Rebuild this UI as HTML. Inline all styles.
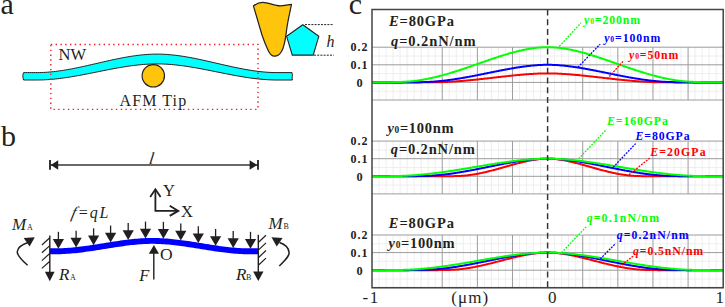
<!DOCTYPE html>
<html><head><meta charset="utf-8"><title>figure</title>
<style>
html,body{margin:0;padding:0;background:#fff;width:725px;height:307px;overflow:hidden;}
svg{display:block;}
text{font-family:"Liberation Serif",serif;}
</style></head>
<body>
<svg width="725" height="307" viewBox="0 0 725 307">
<rect width="725" height="307" fill="#fff"/>
<line x1="379.02" y1="47.2" x2="379.02" y2="100.0" stroke="#ececec" stroke-width="0.9"/>
<line x1="386.05" y1="47.2" x2="386.05" y2="100.0" stroke="#ececec" stroke-width="0.9"/>
<line x1="393.07" y1="47.2" x2="393.07" y2="100.0" stroke="#ececec" stroke-width="0.9"/>
<line x1="400.10" y1="47.2" x2="400.10" y2="100.0" stroke="#ececec" stroke-width="0.9"/>
<line x1="407.12" y1="47.2" x2="407.12" y2="100.0" stroke="#ececec" stroke-width="0.9"/>
<line x1="414.14" y1="47.2" x2="414.14" y2="100.0" stroke="#ececec" stroke-width="0.9"/>
<line x1="421.17" y1="47.2" x2="421.17" y2="100.0" stroke="#ececec" stroke-width="0.9"/>
<line x1="428.19" y1="47.2" x2="428.19" y2="100.0" stroke="#ececec" stroke-width="0.9"/>
<line x1="435.22" y1="47.2" x2="435.22" y2="100.0" stroke="#ececec" stroke-width="0.9"/>
<line x1="449.26" y1="47.2" x2="449.26" y2="100.0" stroke="#ececec" stroke-width="0.9"/>
<line x1="456.29" y1="47.2" x2="456.29" y2="100.0" stroke="#ececec" stroke-width="0.9"/>
<line x1="463.31" y1="47.2" x2="463.31" y2="100.0" stroke="#ececec" stroke-width="0.9"/>
<line x1="470.34" y1="47.2" x2="470.34" y2="100.0" stroke="#ececec" stroke-width="0.9"/>
<line x1="484.38" y1="47.2" x2="484.38" y2="100.0" stroke="#ececec" stroke-width="0.9"/>
<line x1="491.41" y1="47.2" x2="491.41" y2="100.0" stroke="#ececec" stroke-width="0.9"/>
<line x1="498.43" y1="47.2" x2="498.43" y2="100.0" stroke="#ececec" stroke-width="0.9"/>
<line x1="505.46" y1="47.2" x2="505.46" y2="100.0" stroke="#ececec" stroke-width="0.9"/>
<line x1="519.50" y1="47.2" x2="519.50" y2="100.0" stroke="#ececec" stroke-width="0.9"/>
<line x1="526.53" y1="47.2" x2="526.53" y2="100.0" stroke="#ececec" stroke-width="0.9"/>
<line x1="533.55" y1="47.2" x2="533.55" y2="100.0" stroke="#ececec" stroke-width="0.9"/>
<line x1="540.58" y1="47.2" x2="540.58" y2="100.0" stroke="#ececec" stroke-width="0.9"/>
<line x1="554.62" y1="47.2" x2="554.62" y2="100.0" stroke="#ececec" stroke-width="0.9"/>
<line x1="561.65" y1="47.2" x2="561.65" y2="100.0" stroke="#ececec" stroke-width="0.9"/>
<line x1="568.67" y1="47.2" x2="568.67" y2="100.0" stroke="#ececec" stroke-width="0.9"/>
<line x1="575.70" y1="47.2" x2="575.70" y2="100.0" stroke="#ececec" stroke-width="0.9"/>
<line x1="589.74" y1="47.2" x2="589.74" y2="100.0" stroke="#ececec" stroke-width="0.9"/>
<line x1="596.77" y1="47.2" x2="596.77" y2="100.0" stroke="#ececec" stroke-width="0.9"/>
<line x1="603.79" y1="47.2" x2="603.79" y2="100.0" stroke="#ececec" stroke-width="0.9"/>
<line x1="610.82" y1="47.2" x2="610.82" y2="100.0" stroke="#ececec" stroke-width="0.9"/>
<line x1="624.86" y1="47.2" x2="624.86" y2="100.0" stroke="#ececec" stroke-width="0.9"/>
<line x1="631.89" y1="47.2" x2="631.89" y2="100.0" stroke="#ececec" stroke-width="0.9"/>
<line x1="638.91" y1="47.2" x2="638.91" y2="100.0" stroke="#ececec" stroke-width="0.9"/>
<line x1="645.94" y1="47.2" x2="645.94" y2="100.0" stroke="#ececec" stroke-width="0.9"/>
<line x1="659.98" y1="47.2" x2="659.98" y2="100.0" stroke="#ececec" stroke-width="0.9"/>
<line x1="667.01" y1="47.2" x2="667.01" y2="100.0" stroke="#ececec" stroke-width="0.9"/>
<line x1="674.03" y1="47.2" x2="674.03" y2="100.0" stroke="#ececec" stroke-width="0.9"/>
<line x1="681.06" y1="47.2" x2="681.06" y2="100.0" stroke="#ececec" stroke-width="0.9"/>
<line x1="695.10" y1="47.2" x2="695.10" y2="100.0" stroke="#ececec" stroke-width="0.9"/>
<line x1="702.13" y1="47.2" x2="702.13" y2="100.0" stroke="#ececec" stroke-width="0.9"/>
<line x1="709.15" y1="47.2" x2="709.15" y2="100.0" stroke="#ececec" stroke-width="0.9"/>
<line x1="716.18" y1="47.2" x2="716.18" y2="100.0" stroke="#ececec" stroke-width="0.9"/>
<line x1="372.0" y1="56.00000000000001" x2="723.2" y2="56.00000000000001" stroke="#ececec" stroke-width="0.9"/>
<line x1="372.0" y1="73.60000000000001" x2="723.2" y2="73.60000000000001" stroke="#ececec" stroke-width="0.9"/>
<line x1="372.0" y1="91.2" x2="723.2" y2="91.2" stroke="#ececec" stroke-width="0.9"/>
<line x1="442.24" y1="47.2" x2="442.24" y2="100.0" stroke="#9c9c9c" stroke-width="1"/>
<line x1="477.36" y1="47.2" x2="477.36" y2="100.0" stroke="#9c9c9c" stroke-width="1"/>
<line x1="512.48" y1="47.2" x2="512.48" y2="100.0" stroke="#9c9c9c" stroke-width="1"/>
<line x1="582.72" y1="47.2" x2="582.72" y2="100.0" stroke="#9c9c9c" stroke-width="1"/>
<line x1="617.84" y1="47.2" x2="617.84" y2="100.0" stroke="#9c9c9c" stroke-width="1"/>
<line x1="652.96" y1="47.2" x2="652.96" y2="100.0" stroke="#9c9c9c" stroke-width="1"/>
<line x1="688.08" y1="47.2" x2="688.08" y2="100.0" stroke="#9c9c9c" stroke-width="1"/>
<line x1="372.0" y1="47.2" x2="723.2" y2="47.2" stroke="#9c9c9c" stroke-width="1"/>
<line x1="372.0" y1="64.80000000000001" x2="723.2" y2="64.80000000000001" stroke="#9c9c9c" stroke-width="1"/>
<line x1="372.0" y1="82.4" x2="723.2" y2="82.4" stroke="#9c9c9c" stroke-width="1"/>
<line x1="372.0" y1="100.0" x2="723.2" y2="100.0" stroke="#9c9c9c" stroke-width="1"/>
<line x1="379.02" y1="141.10000000000002" x2="379.02" y2="193.9" stroke="#ececec" stroke-width="0.9"/>
<line x1="386.05" y1="141.10000000000002" x2="386.05" y2="193.9" stroke="#ececec" stroke-width="0.9"/>
<line x1="393.07" y1="141.10000000000002" x2="393.07" y2="193.9" stroke="#ececec" stroke-width="0.9"/>
<line x1="400.10" y1="141.10000000000002" x2="400.10" y2="193.9" stroke="#ececec" stroke-width="0.9"/>
<line x1="407.12" y1="141.10000000000002" x2="407.12" y2="193.9" stroke="#ececec" stroke-width="0.9"/>
<line x1="414.14" y1="141.10000000000002" x2="414.14" y2="193.9" stroke="#ececec" stroke-width="0.9"/>
<line x1="421.17" y1="141.10000000000002" x2="421.17" y2="193.9" stroke="#ececec" stroke-width="0.9"/>
<line x1="428.19" y1="141.10000000000002" x2="428.19" y2="193.9" stroke="#ececec" stroke-width="0.9"/>
<line x1="435.22" y1="141.10000000000002" x2="435.22" y2="193.9" stroke="#ececec" stroke-width="0.9"/>
<line x1="449.26" y1="141.10000000000002" x2="449.26" y2="193.9" stroke="#ececec" stroke-width="0.9"/>
<line x1="456.29" y1="141.10000000000002" x2="456.29" y2="193.9" stroke="#ececec" stroke-width="0.9"/>
<line x1="463.31" y1="141.10000000000002" x2="463.31" y2="193.9" stroke="#ececec" stroke-width="0.9"/>
<line x1="470.34" y1="141.10000000000002" x2="470.34" y2="193.9" stroke="#ececec" stroke-width="0.9"/>
<line x1="484.38" y1="141.10000000000002" x2="484.38" y2="193.9" stroke="#ececec" stroke-width="0.9"/>
<line x1="491.41" y1="141.10000000000002" x2="491.41" y2="193.9" stroke="#ececec" stroke-width="0.9"/>
<line x1="498.43" y1="141.10000000000002" x2="498.43" y2="193.9" stroke="#ececec" stroke-width="0.9"/>
<line x1="505.46" y1="141.10000000000002" x2="505.46" y2="193.9" stroke="#ececec" stroke-width="0.9"/>
<line x1="519.50" y1="141.10000000000002" x2="519.50" y2="193.9" stroke="#ececec" stroke-width="0.9"/>
<line x1="526.53" y1="141.10000000000002" x2="526.53" y2="193.9" stroke="#ececec" stroke-width="0.9"/>
<line x1="533.55" y1="141.10000000000002" x2="533.55" y2="193.9" stroke="#ececec" stroke-width="0.9"/>
<line x1="540.58" y1="141.10000000000002" x2="540.58" y2="193.9" stroke="#ececec" stroke-width="0.9"/>
<line x1="554.62" y1="141.10000000000002" x2="554.62" y2="193.9" stroke="#ececec" stroke-width="0.9"/>
<line x1="561.65" y1="141.10000000000002" x2="561.65" y2="193.9" stroke="#ececec" stroke-width="0.9"/>
<line x1="568.67" y1="141.10000000000002" x2="568.67" y2="193.9" stroke="#ececec" stroke-width="0.9"/>
<line x1="575.70" y1="141.10000000000002" x2="575.70" y2="193.9" stroke="#ececec" stroke-width="0.9"/>
<line x1="589.74" y1="141.10000000000002" x2="589.74" y2="193.9" stroke="#ececec" stroke-width="0.9"/>
<line x1="596.77" y1="141.10000000000002" x2="596.77" y2="193.9" stroke="#ececec" stroke-width="0.9"/>
<line x1="603.79" y1="141.10000000000002" x2="603.79" y2="193.9" stroke="#ececec" stroke-width="0.9"/>
<line x1="610.82" y1="141.10000000000002" x2="610.82" y2="193.9" stroke="#ececec" stroke-width="0.9"/>
<line x1="624.86" y1="141.10000000000002" x2="624.86" y2="193.9" stroke="#ececec" stroke-width="0.9"/>
<line x1="631.89" y1="141.10000000000002" x2="631.89" y2="193.9" stroke="#ececec" stroke-width="0.9"/>
<line x1="638.91" y1="141.10000000000002" x2="638.91" y2="193.9" stroke="#ececec" stroke-width="0.9"/>
<line x1="645.94" y1="141.10000000000002" x2="645.94" y2="193.9" stroke="#ececec" stroke-width="0.9"/>
<line x1="659.98" y1="141.10000000000002" x2="659.98" y2="193.9" stroke="#ececec" stroke-width="0.9"/>
<line x1="667.01" y1="141.10000000000002" x2="667.01" y2="193.9" stroke="#ececec" stroke-width="0.9"/>
<line x1="674.03" y1="141.10000000000002" x2="674.03" y2="193.9" stroke="#ececec" stroke-width="0.9"/>
<line x1="681.06" y1="141.10000000000002" x2="681.06" y2="193.9" stroke="#ececec" stroke-width="0.9"/>
<line x1="695.10" y1="141.10000000000002" x2="695.10" y2="193.9" stroke="#ececec" stroke-width="0.9"/>
<line x1="702.13" y1="141.10000000000002" x2="702.13" y2="193.9" stroke="#ececec" stroke-width="0.9"/>
<line x1="709.15" y1="141.10000000000002" x2="709.15" y2="193.9" stroke="#ececec" stroke-width="0.9"/>
<line x1="716.18" y1="141.10000000000002" x2="716.18" y2="193.9" stroke="#ececec" stroke-width="0.9"/>
<line x1="372.0" y1="149.9" x2="723.2" y2="149.9" stroke="#ececec" stroke-width="0.9"/>
<line x1="372.0" y1="167.5" x2="723.2" y2="167.5" stroke="#ececec" stroke-width="0.9"/>
<line x1="372.0" y1="185.10000000000002" x2="723.2" y2="185.10000000000002" stroke="#ececec" stroke-width="0.9"/>
<line x1="442.24" y1="141.10000000000002" x2="442.24" y2="193.9" stroke="#9c9c9c" stroke-width="1"/>
<line x1="477.36" y1="141.10000000000002" x2="477.36" y2="193.9" stroke="#9c9c9c" stroke-width="1"/>
<line x1="512.48" y1="141.10000000000002" x2="512.48" y2="193.9" stroke="#9c9c9c" stroke-width="1"/>
<line x1="582.72" y1="141.10000000000002" x2="582.72" y2="193.9" stroke="#9c9c9c" stroke-width="1"/>
<line x1="617.84" y1="141.10000000000002" x2="617.84" y2="193.9" stroke="#9c9c9c" stroke-width="1"/>
<line x1="652.96" y1="141.10000000000002" x2="652.96" y2="193.9" stroke="#9c9c9c" stroke-width="1"/>
<line x1="688.08" y1="141.10000000000002" x2="688.08" y2="193.9" stroke="#9c9c9c" stroke-width="1"/>
<line x1="372.0" y1="141.10000000000002" x2="723.2" y2="141.10000000000002" stroke="#9c9c9c" stroke-width="1"/>
<line x1="372.0" y1="158.70000000000002" x2="723.2" y2="158.70000000000002" stroke="#9c9c9c" stroke-width="1"/>
<line x1="372.0" y1="176.3" x2="723.2" y2="176.3" stroke="#9c9c9c" stroke-width="1"/>
<line x1="372.0" y1="193.9" x2="723.2" y2="193.9" stroke="#9c9c9c" stroke-width="1"/>
<line x1="379.02" y1="235.0" x2="379.02" y2="287.8" stroke="#ececec" stroke-width="0.9"/>
<line x1="386.05" y1="235.0" x2="386.05" y2="287.8" stroke="#ececec" stroke-width="0.9"/>
<line x1="393.07" y1="235.0" x2="393.07" y2="287.8" stroke="#ececec" stroke-width="0.9"/>
<line x1="400.10" y1="235.0" x2="400.10" y2="287.8" stroke="#ececec" stroke-width="0.9"/>
<line x1="407.12" y1="235.0" x2="407.12" y2="287.8" stroke="#ececec" stroke-width="0.9"/>
<line x1="414.14" y1="235.0" x2="414.14" y2="287.8" stroke="#ececec" stroke-width="0.9"/>
<line x1="421.17" y1="235.0" x2="421.17" y2="287.8" stroke="#ececec" stroke-width="0.9"/>
<line x1="428.19" y1="235.0" x2="428.19" y2="287.8" stroke="#ececec" stroke-width="0.9"/>
<line x1="435.22" y1="235.0" x2="435.22" y2="287.8" stroke="#ececec" stroke-width="0.9"/>
<line x1="449.26" y1="235.0" x2="449.26" y2="287.8" stroke="#ececec" stroke-width="0.9"/>
<line x1="456.29" y1="235.0" x2="456.29" y2="287.8" stroke="#ececec" stroke-width="0.9"/>
<line x1="463.31" y1="235.0" x2="463.31" y2="287.8" stroke="#ececec" stroke-width="0.9"/>
<line x1="470.34" y1="235.0" x2="470.34" y2="287.8" stroke="#ececec" stroke-width="0.9"/>
<line x1="484.38" y1="235.0" x2="484.38" y2="287.8" stroke="#ececec" stroke-width="0.9"/>
<line x1="491.41" y1="235.0" x2="491.41" y2="287.8" stroke="#ececec" stroke-width="0.9"/>
<line x1="498.43" y1="235.0" x2="498.43" y2="287.8" stroke="#ececec" stroke-width="0.9"/>
<line x1="505.46" y1="235.0" x2="505.46" y2="287.8" stroke="#ececec" stroke-width="0.9"/>
<line x1="519.50" y1="235.0" x2="519.50" y2="287.8" stroke="#ececec" stroke-width="0.9"/>
<line x1="526.53" y1="235.0" x2="526.53" y2="287.8" stroke="#ececec" stroke-width="0.9"/>
<line x1="533.55" y1="235.0" x2="533.55" y2="287.8" stroke="#ececec" stroke-width="0.9"/>
<line x1="540.58" y1="235.0" x2="540.58" y2="287.8" stroke="#ececec" stroke-width="0.9"/>
<line x1="554.62" y1="235.0" x2="554.62" y2="287.8" stroke="#ececec" stroke-width="0.9"/>
<line x1="561.65" y1="235.0" x2="561.65" y2="287.8" stroke="#ececec" stroke-width="0.9"/>
<line x1="568.67" y1="235.0" x2="568.67" y2="287.8" stroke="#ececec" stroke-width="0.9"/>
<line x1="575.70" y1="235.0" x2="575.70" y2="287.8" stroke="#ececec" stroke-width="0.9"/>
<line x1="589.74" y1="235.0" x2="589.74" y2="287.8" stroke="#ececec" stroke-width="0.9"/>
<line x1="596.77" y1="235.0" x2="596.77" y2="287.8" stroke="#ececec" stroke-width="0.9"/>
<line x1="603.79" y1="235.0" x2="603.79" y2="287.8" stroke="#ececec" stroke-width="0.9"/>
<line x1="610.82" y1="235.0" x2="610.82" y2="287.8" stroke="#ececec" stroke-width="0.9"/>
<line x1="624.86" y1="235.0" x2="624.86" y2="287.8" stroke="#ececec" stroke-width="0.9"/>
<line x1="631.89" y1="235.0" x2="631.89" y2="287.8" stroke="#ececec" stroke-width="0.9"/>
<line x1="638.91" y1="235.0" x2="638.91" y2="287.8" stroke="#ececec" stroke-width="0.9"/>
<line x1="645.94" y1="235.0" x2="645.94" y2="287.8" stroke="#ececec" stroke-width="0.9"/>
<line x1="659.98" y1="235.0" x2="659.98" y2="287.8" stroke="#ececec" stroke-width="0.9"/>
<line x1="667.01" y1="235.0" x2="667.01" y2="287.8" stroke="#ececec" stroke-width="0.9"/>
<line x1="674.03" y1="235.0" x2="674.03" y2="287.8" stroke="#ececec" stroke-width="0.9"/>
<line x1="681.06" y1="235.0" x2="681.06" y2="287.8" stroke="#ececec" stroke-width="0.9"/>
<line x1="695.10" y1="235.0" x2="695.10" y2="287.8" stroke="#ececec" stroke-width="0.9"/>
<line x1="702.13" y1="235.0" x2="702.13" y2="287.8" stroke="#ececec" stroke-width="0.9"/>
<line x1="709.15" y1="235.0" x2="709.15" y2="287.8" stroke="#ececec" stroke-width="0.9"/>
<line x1="716.18" y1="235.0" x2="716.18" y2="287.8" stroke="#ececec" stroke-width="0.9"/>
<line x1="372.0" y1="243.79999999999998" x2="723.2" y2="243.79999999999998" stroke="#ececec" stroke-width="0.9"/>
<line x1="372.0" y1="261.4" x2="723.2" y2="261.4" stroke="#ececec" stroke-width="0.9"/>
<line x1="372.0" y1="279.0" x2="723.2" y2="279.0" stroke="#ececec" stroke-width="0.9"/>
<line x1="442.24" y1="235.0" x2="442.24" y2="287.8" stroke="#9c9c9c" stroke-width="1"/>
<line x1="477.36" y1="235.0" x2="477.36" y2="287.8" stroke="#9c9c9c" stroke-width="1"/>
<line x1="512.48" y1="235.0" x2="512.48" y2="287.8" stroke="#9c9c9c" stroke-width="1"/>
<line x1="582.72" y1="235.0" x2="582.72" y2="287.8" stroke="#9c9c9c" stroke-width="1"/>
<line x1="617.84" y1="235.0" x2="617.84" y2="287.8" stroke="#9c9c9c" stroke-width="1"/>
<line x1="652.96" y1="235.0" x2="652.96" y2="287.8" stroke="#9c9c9c" stroke-width="1"/>
<line x1="688.08" y1="235.0" x2="688.08" y2="287.8" stroke="#9c9c9c" stroke-width="1"/>
<line x1="372.0" y1="235.0" x2="723.2" y2="235.0" stroke="#9c9c9c" stroke-width="1"/>
<line x1="372.0" y1="252.6" x2="723.2" y2="252.6" stroke="#9c9c9c" stroke-width="1"/>
<line x1="372.0" y1="270.2" x2="723.2" y2="270.2" stroke="#9c9c9c" stroke-width="1"/>
<line x1="372.0" y1="287.8" x2="723.2" y2="287.8" stroke="#9c9c9c" stroke-width="1"/>
<polyline points="372.00,82.40 372.88,82.40 373.76,82.40 374.63,82.40 375.51,82.40 376.39,82.40 377.27,82.40 378.15,82.40 379.02,82.40 379.90,82.40 380.78,82.40 381.66,82.40 382.54,82.40 383.41,82.40 384.29,82.40 385.17,82.40 386.05,82.40 386.93,82.40 387.80,82.40 388.68,82.40 389.56,82.40 390.44,82.40 391.32,82.40 392.19,82.40 393.07,82.40 393.95,82.40 394.83,82.40 395.71,82.40 396.58,82.40 397.46,82.40 398.34,82.40 399.22,82.40 400.10,82.40 400.97,82.40 401.85,82.40 402.73,82.40 403.61,82.40 404.49,82.40 405.36,82.40 406.24,82.40 407.12,82.40 408.00,82.40 408.88,82.40 409.75,82.40 410.63,82.40 411.51,82.40 412.39,82.40 413.27,82.39 414.14,82.39 415.02,82.39 415.90,82.39 416.78,82.39 417.66,82.38 418.53,82.38 419.41,82.38 420.29,82.37 421.17,82.37 422.05,82.37 422.92,82.36 423.80,82.36 424.68,82.35 425.56,82.35 426.44,82.34 427.31,82.33 428.19,82.33 429.07,82.32 429.95,82.31 430.83,82.31 431.70,82.30 432.58,82.29 433.46,82.28 434.34,82.27 435.22,82.26 436.09,82.25 436.97,82.23 437.85,82.22 438.73,82.20 439.61,82.18 440.48,82.15 441.36,82.13 442.24,82.10 443.12,82.07 444.00,82.04 444.87,82.00 445.75,81.97 446.63,81.93 447.51,81.89 448.39,81.84 449.26,81.80 450.14,81.75 451.02,81.70 451.90,81.65 452.78,81.60 453.65,81.54 454.53,81.49 455.41,81.43 456.29,81.37 457.17,81.31 458.04,81.24 458.92,81.18 459.80,81.11 460.68,81.04 461.56,80.97 462.43,80.90 463.31,80.83 464.19,80.75 465.07,80.68 465.95,80.60 466.82,80.52 467.70,80.44 468.58,80.36 469.46,80.27 470.34,80.19 471.21,80.10 472.09,80.02 472.97,79.93 473.85,79.84 474.73,79.75 475.60,79.66 476.48,79.57 477.36,79.48 478.24,79.39 479.12,79.29 479.99,79.20 480.87,79.10 481.75,79.01 482.63,78.91 483.51,78.81 484.38,78.71 485.26,78.61 486.14,78.52 487.02,78.42 487.90,78.32 488.77,78.22 489.65,78.12 490.53,78.02 491.41,77.91 492.29,77.81 493.16,77.71 494.04,77.61 494.92,77.51 495.80,77.41 496.68,77.31 497.55,77.21 498.43,77.11 499.31,77.01 500.19,76.91 501.07,76.81 501.94,76.71 502.82,76.61 503.70,76.51 504.58,76.41 505.46,76.31 506.33,76.22 507.21,76.12 508.09,76.02 508.97,75.93 509.85,75.84 510.72,75.74 511.60,75.65 512.48,75.56 513.36,75.47 514.24,75.38 515.11,75.29 515.99,75.21 516.87,75.12 517.75,75.04 518.63,74.96 519.50,74.88 520.38,74.80 521.26,74.72 522.14,74.64 523.02,74.57 523.89,74.50 524.77,74.43 525.65,74.36 526.53,74.29 527.41,74.23 528.28,74.16 529.16,74.10 530.04,74.04 530.92,73.99 531.80,73.93 532.67,73.88 533.55,73.83 534.43,73.78 535.31,73.74 536.19,73.70 537.06,73.66 537.94,73.62 538.82,73.59 539.70,73.56 540.58,73.53 541.45,73.51 542.33,73.49 543.21,73.47 544.09,73.45 544.97,73.44 545.84,73.43 546.72,73.43 547.60,73.42 548.48,73.43 549.36,73.43 550.23,73.44 551.11,73.45 551.99,73.47 552.87,73.49 553.75,73.51 554.62,73.53 555.50,73.56 556.38,73.59 557.26,73.62 558.14,73.66 559.01,73.70 559.89,73.74 560.77,73.78 561.65,73.83 562.53,73.88 563.40,73.93 564.28,73.99 565.16,74.04 566.04,74.10 566.92,74.16 567.79,74.23 568.67,74.29 569.55,74.36 570.43,74.43 571.31,74.50 572.18,74.57 573.06,74.64 573.94,74.72 574.82,74.80 575.70,74.88 576.57,74.96 577.45,75.04 578.33,75.12 579.21,75.21 580.09,75.29 580.96,75.38 581.84,75.47 582.72,75.56 583.60,75.65 584.48,75.74 585.35,75.84 586.23,75.93 587.11,76.02 587.99,76.12 588.87,76.22 589.74,76.31 590.62,76.41 591.50,76.51 592.38,76.61 593.26,76.71 594.13,76.81 595.01,76.91 595.89,77.01 596.77,77.11 597.65,77.21 598.52,77.31 599.40,77.41 600.28,77.51 601.16,77.61 602.04,77.71 602.91,77.81 603.79,77.91 604.67,78.02 605.55,78.12 606.43,78.22 607.30,78.32 608.18,78.42 609.06,78.52 609.94,78.61 610.82,78.71 611.69,78.81 612.57,78.91 613.45,79.01 614.33,79.10 615.21,79.20 616.08,79.29 616.96,79.39 617.84,79.48 618.72,79.57 619.60,79.66 620.47,79.75 621.35,79.84 622.23,79.93 623.11,80.02 623.99,80.10 624.86,80.19 625.74,80.27 626.62,80.36 627.50,80.44 628.38,80.52 629.25,80.60 630.13,80.68 631.01,80.75 631.89,80.83 632.77,80.90 633.64,80.97 634.52,81.04 635.40,81.11 636.28,81.18 637.16,81.24 638.03,81.31 638.91,81.37 639.79,81.43 640.67,81.49 641.55,81.54 642.42,81.60 643.30,81.65 644.18,81.70 645.06,81.75 645.94,81.80 646.81,81.84 647.69,81.89 648.57,81.93 649.45,81.97 650.33,82.00 651.20,82.04 652.08,82.07 652.96,82.10 653.84,82.13 654.72,82.15 655.59,82.18 656.47,82.20 657.35,82.22 658.23,82.23 659.11,82.25 659.98,82.26 660.86,82.27 661.74,82.28 662.62,82.29 663.50,82.30 664.37,82.31 665.25,82.31 666.13,82.32 667.01,82.33 667.89,82.33 668.76,82.34 669.64,82.35 670.52,82.35 671.40,82.36 672.28,82.36 673.15,82.37 674.03,82.37 674.91,82.37 675.79,82.38 676.67,82.38 677.54,82.38 678.42,82.39 679.30,82.39 680.18,82.39 681.06,82.39 681.93,82.39 682.81,82.40 683.69,82.40 684.57,82.40 685.45,82.40 686.32,82.40 687.20,82.40 688.08,82.40 688.96,82.40 689.84,82.40 690.71,82.40 691.59,82.40 692.47,82.40 693.35,82.40 694.23,82.40 695.10,82.40 695.98,82.40 696.86,82.40 697.74,82.40 698.62,82.40 699.49,82.40 700.37,82.40 701.25,82.40 702.13,82.40 703.01,82.40 703.88,82.40 704.76,82.40 705.64,82.40 706.52,82.40 707.40,82.40 708.27,82.40 709.15,82.40 710.03,82.40 710.91,82.40 711.79,82.40 712.66,82.40 713.54,82.40 714.42,82.40 715.30,82.40 716.18,82.40 717.05,82.40 717.93,82.40 718.81,82.40 719.69,82.40 720.57,82.40 721.44,82.40 722.32,82.40 723.20,82.40" fill="none" stroke="#ff0000" stroke-width="2"/>
<polyline points="372.00,82.40 372.88,82.40 373.76,82.40 374.63,82.40 375.51,82.40 376.39,82.40 377.27,82.40 378.15,82.40 379.02,82.40 379.90,82.40 380.78,82.40 381.66,82.40 382.54,82.40 383.41,82.40 384.29,82.40 385.17,82.40 386.05,82.40 386.93,82.40 387.80,82.40 388.68,82.40 389.56,82.40 390.44,82.40 391.32,82.40 392.19,82.40 393.07,82.40 393.95,82.40 394.83,82.40 395.71,82.39 396.58,82.39 397.46,82.39 398.34,82.39 399.22,82.39 400.10,82.38 400.97,82.38 401.85,82.38 402.73,82.37 403.61,82.37 404.49,82.36 405.36,82.36 406.24,82.35 407.12,82.34 408.00,82.34 408.88,82.33 409.75,82.32 410.63,82.31 411.51,82.30 412.39,82.29 413.27,82.28 414.14,82.27 415.02,82.26 415.90,82.25 416.78,82.24 417.66,82.22 418.53,82.21 419.41,82.19 420.29,82.18 421.17,82.16 422.05,82.14 422.92,82.12 423.80,82.10 424.68,82.08 425.56,82.05 426.44,82.02 427.31,81.98 428.19,81.94 429.07,81.90 429.95,81.86 430.83,81.81 431.70,81.75 432.58,81.69 433.46,81.63 434.34,81.57 435.22,81.50 436.09,81.43 436.97,81.36 437.85,81.28 438.73,81.20 439.61,81.11 440.48,81.03 441.36,80.94 442.24,80.84 443.12,80.75 444.00,80.65 444.87,80.55 445.75,80.44 446.63,80.34 447.51,80.22 448.39,80.11 449.26,80.00 450.14,79.88 451.02,79.76 451.90,79.63 452.78,79.51 453.65,79.38 454.53,79.25 455.41,79.11 456.29,78.98 457.17,78.84 458.04,78.70 458.92,78.56 459.80,78.42 460.68,78.27 461.56,78.12 462.43,77.97 463.31,77.82 464.19,77.67 465.07,77.51 465.95,77.36 466.82,77.20 467.70,77.04 468.58,76.88 469.46,76.71 470.34,76.55 471.21,76.38 472.09,76.22 472.97,76.05 473.85,75.88 474.73,75.71 475.60,75.54 476.48,75.37 477.36,75.19 478.24,75.02 479.12,74.84 479.99,74.67 480.87,74.49 481.75,74.32 482.63,74.14 483.51,73.96 484.38,73.78 485.26,73.60 486.14,73.43 487.02,73.25 487.90,73.07 488.77,72.89 489.65,72.71 490.53,72.53 491.41,72.35 492.29,72.18 493.16,72.00 494.04,71.82 494.92,71.64 495.80,71.47 496.68,71.29 497.55,71.11 498.43,70.94 499.31,70.77 500.19,70.59 501.07,70.42 501.94,70.25 502.82,70.08 503.70,69.91 504.58,69.74 505.46,69.58 506.33,69.41 507.21,69.25 508.09,69.09 508.97,68.93 509.85,68.77 510.72,68.61 511.60,68.46 512.48,68.31 513.36,68.16 514.24,68.01 515.11,67.86 515.99,67.72 516.87,67.58 517.75,67.44 518.63,67.30 519.50,67.17 520.38,67.04 521.26,66.91 522.14,66.78 523.02,66.66 523.89,66.54 524.77,66.43 525.65,66.31 526.53,66.20 527.41,66.10 528.28,65.99 529.16,65.90 530.04,65.80 530.92,65.71 531.80,65.62 532.67,65.54 533.55,65.46 534.43,65.38 535.31,65.31 536.19,65.24 537.06,65.18 537.94,65.12 538.82,65.07 539.70,65.02 540.58,64.97 541.45,64.93 542.33,64.90 543.21,64.87 544.09,64.84 544.97,64.82 545.84,64.81 546.72,64.80 547.60,64.80 548.48,64.80 549.36,64.81 550.23,64.82 551.11,64.84 551.99,64.87 552.87,64.90 553.75,64.93 554.62,64.97 555.50,65.02 556.38,65.07 557.26,65.12 558.14,65.18 559.01,65.24 559.89,65.31 560.77,65.38 561.65,65.46 562.53,65.54 563.40,65.62 564.28,65.71 565.16,65.80 566.04,65.90 566.92,65.99 567.79,66.10 568.67,66.20 569.55,66.31 570.43,66.43 571.31,66.54 572.18,66.66 573.06,66.78 573.94,66.91 574.82,67.04 575.70,67.17 576.57,67.30 577.45,67.44 578.33,67.58 579.21,67.72 580.09,67.86 580.96,68.01 581.84,68.16 582.72,68.31 583.60,68.46 584.48,68.61 585.35,68.77 586.23,68.93 587.11,69.09 587.99,69.25 588.87,69.41 589.74,69.58 590.62,69.74 591.50,69.91 592.38,70.08 593.26,70.25 594.13,70.42 595.01,70.59 595.89,70.77 596.77,70.94 597.65,71.11 598.52,71.29 599.40,71.47 600.28,71.64 601.16,71.82 602.04,72.00 602.91,72.18 603.79,72.35 604.67,72.53 605.55,72.71 606.43,72.89 607.30,73.07 608.18,73.25 609.06,73.43 609.94,73.60 610.82,73.78 611.69,73.96 612.57,74.14 613.45,74.32 614.33,74.49 615.21,74.67 616.08,74.84 616.96,75.02 617.84,75.19 618.72,75.37 619.60,75.54 620.47,75.71 621.35,75.88 622.23,76.05 623.11,76.22 623.99,76.38 624.86,76.55 625.74,76.71 626.62,76.88 627.50,77.04 628.38,77.20 629.25,77.36 630.13,77.51 631.01,77.67 631.89,77.82 632.77,77.97 633.64,78.12 634.52,78.27 635.40,78.42 636.28,78.56 637.16,78.70 638.03,78.84 638.91,78.98 639.79,79.11 640.67,79.25 641.55,79.38 642.42,79.51 643.30,79.63 644.18,79.76 645.06,79.88 645.94,80.00 646.81,80.11 647.69,80.22 648.57,80.34 649.45,80.44 650.33,80.55 651.20,80.65 652.08,80.75 652.96,80.84 653.84,80.94 654.72,81.03 655.59,81.11 656.47,81.20 657.35,81.28 658.23,81.36 659.11,81.43 659.98,81.50 660.86,81.57 661.74,81.63 662.62,81.69 663.50,81.75 664.37,81.81 665.25,81.86 666.13,81.90 667.01,81.94 667.89,81.98 668.76,82.02 669.64,82.05 670.52,82.08 671.40,82.10 672.28,82.12 673.15,82.14 674.03,82.16 674.91,82.18 675.79,82.19 676.67,82.21 677.54,82.22 678.42,82.24 679.30,82.25 680.18,82.26 681.06,82.27 681.93,82.28 682.81,82.29 683.69,82.30 684.57,82.31 685.45,82.32 686.32,82.33 687.20,82.34 688.08,82.34 688.96,82.35 689.84,82.36 690.71,82.36 691.59,82.37 692.47,82.37 693.35,82.38 694.23,82.38 695.10,82.38 695.98,82.39 696.86,82.39 697.74,82.39 698.62,82.39 699.49,82.39 700.37,82.40 701.25,82.40 702.13,82.40 703.01,82.40 703.88,82.40 704.76,82.40 705.64,82.40 706.52,82.40 707.40,82.40 708.27,82.40 709.15,82.40 710.03,82.40 710.91,82.40 711.79,82.40 712.66,82.40 713.54,82.40 714.42,82.40 715.30,82.40 716.18,82.40 717.05,82.40 717.93,82.40 718.81,82.40 719.69,82.40 720.57,82.40 721.44,82.40 722.32,82.40 723.20,82.40" fill="none" stroke="#0000ff" stroke-width="2"/>
<polyline points="372.00,82.39 372.88,82.38 373.76,82.38 374.63,82.37 375.51,82.37 376.39,82.36 377.27,82.36 378.15,82.35 379.02,82.35 379.90,82.34 380.78,82.33 381.66,82.32 382.54,82.31 383.41,82.30 384.29,82.29 385.17,82.28 386.05,82.26 386.93,82.25 387.80,82.24 388.68,82.22 389.56,82.21 390.44,82.19 391.32,82.17 392.19,82.15 393.07,82.13 393.95,82.11 394.83,82.09 395.71,82.07 396.58,82.04 397.46,82.02 398.34,81.99 399.22,81.97 400.10,81.94 400.97,81.91 401.85,81.88 402.73,81.85 403.61,81.81 404.49,81.77 405.36,81.73 406.24,81.68 407.12,81.62 408.00,81.56 408.88,81.49 409.75,81.41 410.63,81.34 411.51,81.25 412.39,81.16 413.27,81.07 414.14,80.97 415.02,80.86 415.90,80.75 416.78,80.64 417.66,80.52 418.53,80.39 419.41,80.26 420.29,80.13 421.17,79.99 422.05,79.84 422.92,79.69 423.80,79.54 424.68,79.38 425.56,79.22 426.44,79.05 427.31,78.88 428.19,78.70 429.07,78.52 429.95,78.34 430.83,78.15 431.70,77.96 432.58,77.76 433.46,77.56 434.34,77.36 435.22,77.15 436.09,76.94 436.97,76.72 437.85,76.51 438.73,76.28 439.61,76.06 440.48,75.83 441.36,75.60 442.24,75.36 443.12,75.12 444.00,74.88 444.87,74.63 445.75,74.38 446.63,74.13 447.51,73.88 448.39,73.62 449.26,73.36 450.14,73.10 451.02,72.83 451.90,72.56 452.78,72.29 453.65,72.02 454.53,71.75 455.41,71.47 456.29,71.19 457.17,70.91 458.04,70.63 458.92,70.34 459.80,70.05 460.68,69.76 461.56,69.47 462.43,69.18 463.31,68.89 464.19,68.59 465.07,68.30 465.95,68.00 466.82,67.70 467.70,67.40 468.58,67.10 469.46,66.79 470.34,66.49 471.21,66.19 472.09,65.88 472.97,65.58 473.85,65.27 474.73,64.96 475.60,64.66 476.48,64.35 477.36,64.04 478.24,63.73 479.12,63.43 479.99,63.12 480.87,62.81 481.75,62.50 482.63,62.20 483.51,61.89 484.38,61.58 485.26,61.28 486.14,60.97 487.02,60.67 487.90,60.36 488.77,60.06 489.65,59.76 490.53,59.46 491.41,59.16 492.29,58.86 493.16,58.57 494.04,58.27 494.92,57.98 495.80,57.69 496.68,57.40 497.55,57.11 498.43,56.82 499.31,56.54 500.19,56.26 501.07,55.98 501.94,55.70 502.82,55.42 503.70,55.15 504.58,54.88 505.46,54.62 506.33,54.35 507.21,54.09 508.09,53.83 508.97,53.58 509.85,53.33 510.72,53.08 511.60,52.84 512.48,52.60 513.36,52.36 514.24,52.13 515.11,51.90 515.99,51.67 516.87,51.45 517.75,51.23 518.63,51.02 519.50,50.81 520.38,50.61 521.26,50.41 522.14,50.22 523.02,50.03 523.89,49.84 524.77,49.67 525.65,49.49 526.53,49.32 527.41,49.16 528.28,49.00 529.16,48.85 530.04,48.71 530.92,48.57 531.80,48.43 532.67,48.31 533.55,48.18 534.43,48.07 535.31,47.96 536.19,47.86 537.06,47.77 537.94,47.68 538.82,47.60 539.70,47.52 540.58,47.46 541.45,47.40 542.33,47.35 543.21,47.30 544.09,47.27 544.97,47.24 545.84,47.22 546.72,47.20 547.60,47.20 548.48,47.20 549.36,47.22 550.23,47.24 551.11,47.27 551.99,47.30 552.87,47.35 553.75,47.40 554.62,47.46 555.50,47.52 556.38,47.60 557.26,47.68 558.14,47.77 559.01,47.86 559.89,47.96 560.77,48.07 561.65,48.18 562.53,48.31 563.40,48.43 564.28,48.57 565.16,48.71 566.04,48.85 566.92,49.00 567.79,49.16 568.67,49.32 569.55,49.49 570.43,49.67 571.31,49.84 572.18,50.03 573.06,50.22 573.94,50.41 574.82,50.61 575.70,50.81 576.57,51.02 577.45,51.23 578.33,51.45 579.21,51.67 580.09,51.90 580.96,52.13 581.84,52.36 582.72,52.60 583.60,52.84 584.48,53.08 585.35,53.33 586.23,53.58 587.11,53.83 587.99,54.09 588.87,54.35 589.74,54.62 590.62,54.88 591.50,55.15 592.38,55.42 593.26,55.70 594.13,55.98 595.01,56.26 595.89,56.54 596.77,56.82 597.65,57.11 598.52,57.40 599.40,57.69 600.28,57.98 601.16,58.27 602.04,58.57 602.91,58.86 603.79,59.16 604.67,59.46 605.55,59.76 606.43,60.06 607.30,60.36 608.18,60.67 609.06,60.97 609.94,61.28 610.82,61.58 611.69,61.89 612.57,62.20 613.45,62.50 614.33,62.81 615.21,63.12 616.08,63.43 616.96,63.73 617.84,64.04 618.72,64.35 619.60,64.66 620.47,64.96 621.35,65.27 622.23,65.58 623.11,65.88 623.99,66.19 624.86,66.49 625.74,66.79 626.62,67.10 627.50,67.40 628.38,67.70 629.25,68.00 630.13,68.30 631.01,68.59 631.89,68.89 632.77,69.18 633.64,69.47 634.52,69.76 635.40,70.05 636.28,70.34 637.16,70.63 638.03,70.91 638.91,71.19 639.79,71.47 640.67,71.75 641.55,72.02 642.42,72.29 643.30,72.56 644.18,72.83 645.06,73.10 645.94,73.36 646.81,73.62 647.69,73.88 648.57,74.13 649.45,74.38 650.33,74.63 651.20,74.88 652.08,75.12 652.96,75.36 653.84,75.60 654.72,75.83 655.59,76.06 656.47,76.28 657.35,76.51 658.23,76.72 659.11,76.94 659.98,77.15 660.86,77.36 661.74,77.56 662.62,77.76 663.50,77.96 664.37,78.15 665.25,78.34 666.13,78.52 667.01,78.70 667.89,78.88 668.76,79.05 669.64,79.22 670.52,79.38 671.40,79.54 672.28,79.69 673.15,79.84 674.03,79.99 674.91,80.13 675.79,80.26 676.67,80.39 677.54,80.52 678.42,80.64 679.30,80.75 680.18,80.86 681.06,80.97 681.93,81.07 682.81,81.16 683.69,81.25 684.57,81.34 685.45,81.41 686.32,81.49 687.20,81.56 688.08,81.62 688.96,81.68 689.84,81.73 690.71,81.77 691.59,81.81 692.47,81.85 693.35,81.88 694.23,81.91 695.10,81.94 695.98,81.97 696.86,81.99 697.74,82.02 698.62,82.04 699.49,82.07 700.37,82.09 701.25,82.11 702.13,82.13 703.01,82.15 703.88,82.17 704.76,82.19 705.64,82.21 706.52,82.22 707.40,82.24 708.27,82.25 709.15,82.26 710.03,82.28 710.91,82.29 711.79,82.30 712.66,82.31 713.54,82.32 714.42,82.33 715.30,82.34 716.18,82.35 717.05,82.35 717.93,82.36 718.81,82.36 719.69,82.37 720.57,82.37 721.44,82.38 722.32,82.38 723.20,82.39" fill="none" stroke="#00ff00" stroke-width="2"/>
<polyline points="372.00,176.30 372.88,176.30 373.76,176.30 374.63,176.30 375.51,176.30 376.39,176.30 377.27,176.30 378.15,176.30 379.02,176.30 379.90,176.30 380.78,176.30 381.66,176.30 382.54,176.30 383.41,176.30 384.29,176.30 385.17,176.30 386.05,176.30 386.93,176.30 387.80,176.30 388.68,176.30 389.56,176.30 390.44,176.30 391.32,176.30 392.19,176.30 393.07,176.30 393.95,176.30 394.83,176.30 395.71,176.30 396.58,176.30 397.46,176.30 398.34,176.30 399.22,176.30 400.10,176.30 400.97,176.30 401.85,176.30 402.73,176.30 403.61,176.30 404.49,176.30 405.36,176.30 406.24,176.30 407.12,176.30 408.00,176.30 408.88,176.30 409.75,176.30 410.63,176.30 411.51,176.30 412.39,176.30 413.27,176.30 414.14,176.30 415.02,176.30 415.90,176.30 416.78,176.30 417.66,176.30 418.53,176.30 419.41,176.30 420.29,176.30 421.17,176.30 422.05,176.30 422.92,176.30 423.80,176.30 424.68,176.30 425.56,176.30 426.44,176.30 427.31,176.30 428.19,176.30 429.07,176.30 429.95,176.30 430.83,176.30 431.70,176.30 432.58,176.30 433.46,176.30 434.34,176.30 435.22,176.30 436.09,176.30 436.97,176.30 437.85,176.30 438.73,176.29 439.61,176.29 440.48,176.29 441.36,176.28 442.24,176.28 443.12,176.27 444.00,176.27 444.87,176.26 445.75,176.25 446.63,176.24 447.51,176.24 448.39,176.22 449.26,176.21 450.14,176.20 451.02,176.18 451.90,176.17 452.78,176.15 453.65,176.13 454.53,176.12 455.41,176.09 456.29,176.07 457.17,176.05 458.04,176.02 458.92,175.99 459.80,175.96 460.68,175.91 461.56,175.86 462.43,175.80 463.31,175.74 464.19,175.67 465.07,175.59 465.95,175.50 466.82,175.41 467.70,175.31 468.58,175.20 469.46,175.09 470.34,174.97 471.21,174.85 472.09,174.72 472.97,174.58 473.85,174.44 474.73,174.29 475.60,174.14 476.48,173.98 477.36,173.82 478.24,173.65 479.12,173.48 479.99,173.30 480.87,173.12 481.75,172.94 482.63,172.74 483.51,172.55 484.38,172.35 485.26,172.15 486.14,171.94 487.02,171.73 487.90,171.52 488.77,171.30 489.65,171.08 490.53,170.86 491.41,170.63 492.29,170.40 493.16,170.17 494.04,169.94 494.92,169.70 495.80,169.46 496.68,169.22 497.55,168.98 498.43,168.74 499.31,168.49 500.19,168.25 501.07,168.00 501.94,167.75 502.82,167.50 503.70,167.26 504.58,167.01 505.46,166.76 506.33,166.51 507.21,166.26 508.09,166.01 508.97,165.77 509.85,165.52 510.72,165.27 511.60,165.03 512.48,164.79 513.36,164.54 514.24,164.30 515.11,164.07 515.99,163.83 516.87,163.60 517.75,163.37 518.63,163.14 519.50,162.92 520.38,162.70 521.26,162.48 522.14,162.26 523.02,162.05 523.89,161.85 524.77,161.65 525.65,161.45 526.53,161.26 527.41,161.07 528.28,160.89 529.16,160.71 530.04,160.54 530.92,160.38 531.80,160.22 532.67,160.07 533.55,159.92 534.43,159.78 535.31,159.65 536.19,159.53 537.06,159.41 537.94,159.30 538.82,159.20 539.70,159.11 540.58,159.03 541.45,158.95 542.33,158.89 543.21,158.83 544.09,158.78 544.97,158.75 545.84,158.72 546.72,158.71 547.60,158.70 548.48,158.71 549.36,158.72 550.23,158.75 551.11,158.78 551.99,158.83 552.87,158.89 553.75,158.95 554.62,159.03 555.50,159.11 556.38,159.20 557.26,159.30 558.14,159.41 559.01,159.53 559.89,159.65 560.77,159.78 561.65,159.92 562.53,160.07 563.40,160.22 564.28,160.38 565.16,160.54 566.04,160.71 566.92,160.89 567.79,161.07 568.67,161.26 569.55,161.45 570.43,161.65 571.31,161.85 572.18,162.05 573.06,162.26 573.94,162.48 574.82,162.70 575.70,162.92 576.57,163.14 577.45,163.37 578.33,163.60 579.21,163.83 580.09,164.07 580.96,164.30 581.84,164.54 582.72,164.79 583.60,165.03 584.48,165.27 585.35,165.52 586.23,165.77 587.11,166.01 587.99,166.26 588.87,166.51 589.74,166.76 590.62,167.01 591.50,167.26 592.38,167.50 593.26,167.75 594.13,168.00 595.01,168.25 595.89,168.49 596.77,168.74 597.65,168.98 598.52,169.22 599.40,169.46 600.28,169.70 601.16,169.94 602.04,170.17 602.91,170.40 603.79,170.63 604.67,170.86 605.55,171.08 606.43,171.30 607.30,171.52 608.18,171.73 609.06,171.94 609.94,172.15 610.82,172.35 611.69,172.55 612.57,172.74 613.45,172.94 614.33,173.12 615.21,173.30 616.08,173.48 616.96,173.65 617.84,173.82 618.72,173.98 619.60,174.14 620.47,174.29 621.35,174.44 622.23,174.58 623.11,174.72 623.99,174.85 624.86,174.97 625.74,175.09 626.62,175.20 627.50,175.31 628.38,175.41 629.25,175.50 630.13,175.59 631.01,175.67 631.89,175.74 632.77,175.80 633.64,175.86 634.52,175.91 635.40,175.96 636.28,175.99 637.16,176.02 638.03,176.05 638.91,176.07 639.79,176.09 640.67,176.12 641.55,176.13 642.42,176.15 643.30,176.17 644.18,176.18 645.06,176.20 645.94,176.21 646.81,176.22 647.69,176.24 648.57,176.24 649.45,176.25 650.33,176.26 651.20,176.27 652.08,176.27 652.96,176.28 653.84,176.28 654.72,176.29 655.59,176.29 656.47,176.29 657.35,176.30 658.23,176.30 659.11,176.30 659.98,176.30 660.86,176.30 661.74,176.30 662.62,176.30 663.50,176.30 664.37,176.30 665.25,176.30 666.13,176.30 667.01,176.30 667.89,176.30 668.76,176.30 669.64,176.30 670.52,176.30 671.40,176.30 672.28,176.30 673.15,176.30 674.03,176.30 674.91,176.30 675.79,176.30 676.67,176.30 677.54,176.30 678.42,176.30 679.30,176.30 680.18,176.30 681.06,176.30 681.93,176.30 682.81,176.30 683.69,176.30 684.57,176.30 685.45,176.30 686.32,176.30 687.20,176.30 688.08,176.30 688.96,176.30 689.84,176.30 690.71,176.30 691.59,176.30 692.47,176.30 693.35,176.30 694.23,176.30 695.10,176.30 695.98,176.30 696.86,176.30 697.74,176.30 698.62,176.30 699.49,176.30 700.37,176.30 701.25,176.30 702.13,176.30 703.01,176.30 703.88,176.30 704.76,176.30 705.64,176.30 706.52,176.30 707.40,176.30 708.27,176.30 709.15,176.30 710.03,176.30 710.91,176.30 711.79,176.30 712.66,176.30 713.54,176.30 714.42,176.30 715.30,176.30 716.18,176.30 717.05,176.30 717.93,176.30 718.81,176.30 719.69,176.30 720.57,176.30 721.44,176.30 722.32,176.30 723.20,176.30" fill="none" stroke="#ff0000" stroke-width="2"/>
<polyline points="372.00,176.30 372.88,176.30 373.76,176.30 374.63,176.30 375.51,176.30 376.39,176.30 377.27,176.30 378.15,176.30 379.02,176.30 379.90,176.30 380.78,176.30 381.66,176.30 382.54,176.30 383.41,176.30 384.29,176.30 385.17,176.30 386.05,176.30 386.93,176.30 387.80,176.30 388.68,176.30 389.56,176.30 390.44,176.30 391.32,176.30 392.19,176.30 393.07,176.30 393.95,176.30 394.83,176.30 395.71,176.29 396.58,176.29 397.46,176.29 398.34,176.29 399.22,176.29 400.10,176.28 400.97,176.28 401.85,176.28 402.73,176.27 403.61,176.27 404.49,176.26 405.36,176.26 406.24,176.25 407.12,176.24 408.00,176.24 408.88,176.23 409.75,176.22 410.63,176.21 411.51,176.20 412.39,176.19 413.27,176.18 414.14,176.17 415.02,176.16 415.90,176.15 416.78,176.14 417.66,176.12 418.53,176.11 419.41,176.09 420.29,176.08 421.17,176.06 422.05,176.04 422.92,176.02 423.80,176.00 424.68,175.98 425.56,175.95 426.44,175.92 427.31,175.88 428.19,175.84 429.07,175.80 429.95,175.76 430.83,175.71 431.70,175.65 432.58,175.59 433.46,175.53 434.34,175.47 435.22,175.40 436.09,175.33 436.97,175.26 437.85,175.18 438.73,175.10 439.61,175.01 440.48,174.93 441.36,174.84 442.24,174.74 443.12,174.65 444.00,174.55 444.87,174.45 445.75,174.34 446.63,174.24 447.51,174.12 448.39,174.01 449.26,173.90 450.14,173.78 451.02,173.66 451.90,173.53 452.78,173.41 453.65,173.28 454.53,173.15 455.41,173.01 456.29,172.88 457.17,172.74 458.04,172.60 458.92,172.46 459.80,172.32 460.68,172.17 461.56,172.02 462.43,171.87 463.31,171.72 464.19,171.57 465.07,171.41 465.95,171.26 466.82,171.10 467.70,170.94 468.58,170.78 469.46,170.61 470.34,170.45 471.21,170.28 472.09,170.12 472.97,169.95 473.85,169.78 474.73,169.61 475.60,169.44 476.48,169.27 477.36,169.09 478.24,168.92 479.12,168.74 479.99,168.57 480.87,168.39 481.75,168.22 482.63,168.04 483.51,167.86 484.38,167.68 485.26,167.50 486.14,167.33 487.02,167.15 487.90,166.97 488.77,166.79 489.65,166.61 490.53,166.43 491.41,166.25 492.29,166.08 493.16,165.90 494.04,165.72 494.92,165.54 495.80,165.37 496.68,165.19 497.55,165.01 498.43,164.84 499.31,164.67 500.19,164.49 501.07,164.32 501.94,164.15 502.82,163.98 503.70,163.81 504.58,163.64 505.46,163.48 506.33,163.31 507.21,163.15 508.09,162.99 508.97,162.83 509.85,162.67 510.72,162.51 511.60,162.36 512.48,162.21 513.36,162.06 514.24,161.91 515.11,161.76 515.99,161.62 516.87,161.48 517.75,161.34 518.63,161.20 519.50,161.07 520.38,160.94 521.26,160.81 522.14,160.68 523.02,160.56 523.89,160.44 524.77,160.33 525.65,160.21 526.53,160.10 527.41,160.00 528.28,159.89 529.16,159.80 530.04,159.70 530.92,159.61 531.80,159.52 532.67,159.44 533.55,159.36 534.43,159.28 535.31,159.21 536.19,159.14 537.06,159.08 537.94,159.02 538.82,158.97 539.70,158.92 540.58,158.87 541.45,158.83 542.33,158.80 543.21,158.77 544.09,158.74 544.97,158.72 545.84,158.71 546.72,158.70 547.60,158.70 548.48,158.70 549.36,158.71 550.23,158.72 551.11,158.74 551.99,158.77 552.87,158.80 553.75,158.83 554.62,158.87 555.50,158.92 556.38,158.97 557.26,159.02 558.14,159.08 559.01,159.14 559.89,159.21 560.77,159.28 561.65,159.36 562.53,159.44 563.40,159.52 564.28,159.61 565.16,159.70 566.04,159.80 566.92,159.89 567.79,160.00 568.67,160.10 569.55,160.21 570.43,160.33 571.31,160.44 572.18,160.56 573.06,160.68 573.94,160.81 574.82,160.94 575.70,161.07 576.57,161.20 577.45,161.34 578.33,161.48 579.21,161.62 580.09,161.76 580.96,161.91 581.84,162.06 582.72,162.21 583.60,162.36 584.48,162.51 585.35,162.67 586.23,162.83 587.11,162.99 587.99,163.15 588.87,163.31 589.74,163.48 590.62,163.64 591.50,163.81 592.38,163.98 593.26,164.15 594.13,164.32 595.01,164.49 595.89,164.67 596.77,164.84 597.65,165.01 598.52,165.19 599.40,165.37 600.28,165.54 601.16,165.72 602.04,165.90 602.91,166.08 603.79,166.25 604.67,166.43 605.55,166.61 606.43,166.79 607.30,166.97 608.18,167.15 609.06,167.33 609.94,167.50 610.82,167.68 611.69,167.86 612.57,168.04 613.45,168.22 614.33,168.39 615.21,168.57 616.08,168.74 616.96,168.92 617.84,169.09 618.72,169.27 619.60,169.44 620.47,169.61 621.35,169.78 622.23,169.95 623.11,170.12 623.99,170.28 624.86,170.45 625.74,170.61 626.62,170.78 627.50,170.94 628.38,171.10 629.25,171.26 630.13,171.41 631.01,171.57 631.89,171.72 632.77,171.87 633.64,172.02 634.52,172.17 635.40,172.32 636.28,172.46 637.16,172.60 638.03,172.74 638.91,172.88 639.79,173.01 640.67,173.15 641.55,173.28 642.42,173.41 643.30,173.53 644.18,173.66 645.06,173.78 645.94,173.90 646.81,174.01 647.69,174.12 648.57,174.24 649.45,174.34 650.33,174.45 651.20,174.55 652.08,174.65 652.96,174.74 653.84,174.84 654.72,174.93 655.59,175.01 656.47,175.10 657.35,175.18 658.23,175.26 659.11,175.33 659.98,175.40 660.86,175.47 661.74,175.53 662.62,175.59 663.50,175.65 664.37,175.71 665.25,175.76 666.13,175.80 667.01,175.84 667.89,175.88 668.76,175.92 669.64,175.95 670.52,175.98 671.40,176.00 672.28,176.02 673.15,176.04 674.03,176.06 674.91,176.08 675.79,176.09 676.67,176.11 677.54,176.12 678.42,176.14 679.30,176.15 680.18,176.16 681.06,176.17 681.93,176.18 682.81,176.19 683.69,176.20 684.57,176.21 685.45,176.22 686.32,176.23 687.20,176.24 688.08,176.24 688.96,176.25 689.84,176.26 690.71,176.26 691.59,176.27 692.47,176.27 693.35,176.28 694.23,176.28 695.10,176.28 695.98,176.29 696.86,176.29 697.74,176.29 698.62,176.29 699.49,176.29 700.37,176.30 701.25,176.30 702.13,176.30 703.01,176.30 703.88,176.30 704.76,176.30 705.64,176.30 706.52,176.30 707.40,176.30 708.27,176.30 709.15,176.30 710.03,176.30 710.91,176.30 711.79,176.30 712.66,176.30 713.54,176.30 714.42,176.30 715.30,176.30 716.18,176.30 717.05,176.30 717.93,176.30 718.81,176.30 719.69,176.30 720.57,176.30 721.44,176.30 722.32,176.30 723.20,176.30" fill="none" stroke="#0000ff" stroke-width="2"/>
<polyline points="372.00,176.27 372.88,176.27 373.76,176.26 374.63,176.26 375.51,176.26 376.39,176.25 377.27,176.25 378.15,176.24 379.02,176.23 379.90,176.23 380.78,176.22 381.66,176.21 382.54,176.21 383.41,176.20 384.29,176.19 385.17,176.18 386.05,176.17 386.93,176.16 387.80,176.15 388.68,176.14 389.56,176.13 390.44,176.12 391.32,176.11 392.19,176.09 393.07,176.08 393.95,176.07 394.83,176.05 395.71,176.04 396.58,176.02 397.46,176.01 398.34,175.99 399.22,175.97 400.10,175.94 400.97,175.92 401.85,175.89 402.73,175.85 403.61,175.82 404.49,175.78 405.36,175.74 406.24,175.70 407.12,175.66 408.00,175.61 408.88,175.56 409.75,175.51 410.63,175.46 411.51,175.40 412.39,175.34 413.27,175.28 414.14,175.22 415.02,175.15 415.90,175.09 416.78,175.02 417.66,174.94 418.53,174.87 419.41,174.80 420.29,174.72 421.17,174.64 422.05,174.56 422.92,174.47 423.80,174.39 424.68,174.30 425.56,174.21 426.44,174.12 427.31,174.02 428.19,173.93 429.07,173.83 429.95,173.73 430.83,173.63 431.70,173.53 432.58,173.43 433.46,173.32 434.34,173.21 435.22,173.10 436.09,172.99 436.97,172.88 437.85,172.77 438.73,172.65 439.61,172.54 440.48,172.42 441.36,172.30 442.24,172.18 443.12,172.06 444.00,171.94 444.87,171.81 445.75,171.69 446.63,171.56 447.51,171.43 448.39,171.30 449.26,171.17 450.14,171.04 451.02,170.91 451.90,170.77 452.78,170.64 453.65,170.50 454.53,170.37 455.41,170.23 456.29,170.09 457.17,169.95 458.04,169.81 458.92,169.67 459.80,169.53 460.68,169.39 461.56,169.25 462.43,169.11 463.31,168.96 464.19,168.82 465.07,168.67 465.95,168.53 466.82,168.38 467.70,168.24 468.58,168.09 469.46,167.95 470.34,167.80 471.21,167.65 472.09,167.50 472.97,167.36 473.85,167.21 474.73,167.06 475.60,166.91 476.48,166.77 477.36,166.62 478.24,166.47 479.12,166.32 479.99,166.18 480.87,166.03 481.75,165.88 482.63,165.74 483.51,165.59 484.38,165.44 485.26,165.30 486.14,165.15 487.02,165.01 487.90,164.86 488.77,164.72 489.65,164.58 490.53,164.44 491.41,164.29 492.29,164.15 493.16,164.01 494.04,163.87 494.92,163.73 495.80,163.60 496.68,163.46 497.55,163.32 498.43,163.19 499.31,163.05 500.19,162.92 501.07,162.79 501.94,162.66 502.82,162.53 503.70,162.40 504.58,162.28 505.46,162.15 506.33,162.03 507.21,161.91 508.09,161.79 508.97,161.67 509.85,161.55 510.72,161.43 511.60,161.32 512.48,161.21 513.36,161.10 514.24,160.99 515.11,160.88 515.99,160.77 516.87,160.67 517.75,160.57 518.63,160.47 519.50,160.37 520.38,160.28 521.26,160.19 522.14,160.10 523.02,160.01 523.89,159.92 524.77,159.84 525.65,159.76 526.53,159.68 527.41,159.61 528.28,159.53 529.16,159.46 530.04,159.40 530.92,159.33 531.80,159.27 532.67,159.21 533.55,159.15 534.43,159.10 535.31,159.05 536.19,159.00 537.06,158.96 537.94,158.92 538.82,158.88 539.70,158.85 540.58,158.82 541.45,158.79 542.33,158.77 543.21,158.75 544.09,158.73 544.97,158.72 545.84,158.71 546.72,158.70 547.60,158.70 548.48,158.70 549.36,158.71 550.23,158.72 551.11,158.73 551.99,158.75 552.87,158.77 553.75,158.79 554.62,158.82 555.50,158.85 556.38,158.88 557.26,158.92 558.14,158.96 559.01,159.00 559.89,159.05 560.77,159.10 561.65,159.15 562.53,159.21 563.40,159.27 564.28,159.33 565.16,159.40 566.04,159.46 566.92,159.53 567.79,159.61 568.67,159.68 569.55,159.76 570.43,159.84 571.31,159.92 572.18,160.01 573.06,160.10 573.94,160.19 574.82,160.28 575.70,160.37 576.57,160.47 577.45,160.57 578.33,160.67 579.21,160.77 580.09,160.88 580.96,160.99 581.84,161.10 582.72,161.21 583.60,161.32 584.48,161.43 585.35,161.55 586.23,161.67 587.11,161.79 587.99,161.91 588.87,162.03 589.74,162.15 590.62,162.28 591.50,162.40 592.38,162.53 593.26,162.66 594.13,162.79 595.01,162.92 595.89,163.05 596.77,163.19 597.65,163.32 598.52,163.46 599.40,163.60 600.28,163.73 601.16,163.87 602.04,164.01 602.91,164.15 603.79,164.29 604.67,164.44 605.55,164.58 606.43,164.72 607.30,164.86 608.18,165.01 609.06,165.15 609.94,165.30 610.82,165.44 611.69,165.59 612.57,165.74 613.45,165.88 614.33,166.03 615.21,166.18 616.08,166.32 616.96,166.47 617.84,166.62 618.72,166.77 619.60,166.91 620.47,167.06 621.35,167.21 622.23,167.36 623.11,167.50 623.99,167.65 624.86,167.80 625.74,167.95 626.62,168.09 627.50,168.24 628.38,168.38 629.25,168.53 630.13,168.67 631.01,168.82 631.89,168.96 632.77,169.11 633.64,169.25 634.52,169.39 635.40,169.53 636.28,169.67 637.16,169.81 638.03,169.95 638.91,170.09 639.79,170.23 640.67,170.37 641.55,170.50 642.42,170.64 643.30,170.77 644.18,170.91 645.06,171.04 645.94,171.17 646.81,171.30 647.69,171.43 648.57,171.56 649.45,171.69 650.33,171.81 651.20,171.94 652.08,172.06 652.96,172.18 653.84,172.30 654.72,172.42 655.59,172.54 656.47,172.65 657.35,172.77 658.23,172.88 659.11,172.99 659.98,173.10 660.86,173.21 661.74,173.32 662.62,173.43 663.50,173.53 664.37,173.63 665.25,173.73 666.13,173.83 667.01,173.93 667.89,174.02 668.76,174.12 669.64,174.21 670.52,174.30 671.40,174.39 672.28,174.47 673.15,174.56 674.03,174.64 674.91,174.72 675.79,174.80 676.67,174.87 677.54,174.94 678.42,175.02 679.30,175.09 680.18,175.15 681.06,175.22 681.93,175.28 682.81,175.34 683.69,175.40 684.57,175.46 685.45,175.51 686.32,175.56 687.20,175.61 688.08,175.66 688.96,175.70 689.84,175.74 690.71,175.78 691.59,175.82 692.47,175.85 693.35,175.89 694.23,175.92 695.10,175.94 695.98,175.97 696.86,175.99 697.74,176.01 698.62,176.02 699.49,176.04 700.37,176.05 701.25,176.07 702.13,176.08 703.01,176.09 703.88,176.11 704.76,176.12 705.64,176.13 706.52,176.14 707.40,176.15 708.27,176.16 709.15,176.17 710.03,176.18 710.91,176.19 711.79,176.20 712.66,176.21 713.54,176.21 714.42,176.22 715.30,176.23 716.18,176.23 717.05,176.24 717.93,176.25 718.81,176.25 719.69,176.26 720.57,176.26 721.44,176.26 722.32,176.27 723.20,176.27" fill="none" stroke="#00ff00" stroke-width="2"/>
<polyline points="372.00,270.20 372.88,270.20 373.76,270.20 374.63,270.20 375.51,270.20 376.39,270.20 377.27,270.20 378.15,270.20 379.02,270.20 379.90,270.20 380.78,270.20 381.66,270.20 382.54,270.20 383.41,270.20 384.29,270.20 385.17,270.20 386.05,270.20 386.93,270.20 387.80,270.20 388.68,270.20 389.56,270.20 390.44,270.20 391.32,270.20 392.19,270.20 393.07,270.20 393.95,270.20 394.83,270.20 395.71,270.20 396.58,270.20 397.46,270.20 398.34,270.20 399.22,270.20 400.10,270.20 400.97,270.20 401.85,270.20 402.73,270.20 403.61,270.20 404.49,270.20 405.36,270.20 406.24,270.20 407.12,270.20 408.00,270.20 408.88,270.20 409.75,270.20 410.63,270.20 411.51,270.20 412.39,270.20 413.27,270.20 414.14,270.20 415.02,270.20 415.90,270.20 416.78,270.20 417.66,270.20 418.53,270.20 419.41,270.20 420.29,270.20 421.17,270.20 422.05,270.20 422.92,270.20 423.80,270.20 424.68,270.20 425.56,270.20 426.44,270.20 427.31,270.20 428.19,270.19 429.07,270.19 429.95,270.19 430.83,270.18 431.70,270.18 432.58,270.18 433.46,270.17 434.34,270.17 435.22,270.16 436.09,270.15 436.97,270.14 437.85,270.13 438.73,270.12 439.61,270.11 440.48,270.10 441.36,270.09 442.24,270.07 443.12,270.06 444.00,270.04 444.87,270.03 445.75,270.01 446.63,269.99 447.51,269.97 448.39,269.95 449.26,269.92 450.14,269.90 451.02,269.86 451.90,269.83 452.78,269.78 453.65,269.73 454.53,269.67 455.41,269.61 456.29,269.54 457.17,269.47 458.04,269.39 458.92,269.31 459.80,269.22 460.68,269.12 461.56,269.02 462.43,268.91 463.31,268.80 464.19,268.69 465.07,268.57 465.95,268.44 466.82,268.31 467.70,268.18 468.58,268.04 469.46,267.89 470.34,267.75 471.21,267.59 472.09,267.44 472.97,267.28 473.85,267.11 474.73,266.95 475.60,266.77 476.48,266.60 477.36,266.42 478.24,266.24 479.12,266.05 479.99,265.87 480.87,265.68 481.75,265.48 482.63,265.28 483.51,265.09 484.38,264.88 485.26,264.68 486.14,264.47 487.02,264.26 487.90,264.05 488.77,263.84 489.65,263.62 490.53,263.41 491.41,263.19 492.29,262.97 493.16,262.75 494.04,262.53 494.92,262.30 495.80,262.08 496.68,261.86 497.55,261.63 498.43,261.40 499.31,261.18 500.19,260.95 501.07,260.72 501.94,260.50 502.82,260.27 503.70,260.05 504.58,259.82 505.46,259.59 506.33,259.37 507.21,259.15 508.09,258.92 508.97,258.70 509.85,258.48 510.72,258.26 511.60,258.05 512.48,257.83 513.36,257.62 514.24,257.41 515.11,257.20 515.99,256.99 516.87,256.79 517.75,256.59 518.63,256.39 519.50,256.19 520.38,256.00 521.26,255.81 522.14,255.63 523.02,255.45 523.89,255.27 524.77,255.10 525.65,254.93 526.53,254.76 527.41,254.60 528.28,254.45 529.16,254.30 530.04,254.15 530.92,254.01 531.80,253.88 532.67,253.75 533.55,253.63 534.43,253.51 535.31,253.40 536.19,253.29 537.06,253.20 537.94,253.10 538.82,253.02 539.70,252.94 540.58,252.87 541.45,252.81 542.33,252.76 543.21,252.71 544.09,252.67 544.97,252.64 545.84,252.62 546.72,252.60 547.60,252.60 548.48,252.60 549.36,252.62 550.23,252.64 551.11,252.67 551.99,252.71 552.87,252.76 553.75,252.81 554.62,252.87 555.50,252.94 556.38,253.02 557.26,253.10 558.14,253.20 559.01,253.29 559.89,253.40 560.77,253.51 561.65,253.63 562.53,253.75 563.40,253.88 564.28,254.01 565.16,254.15 566.04,254.30 566.92,254.45 567.79,254.60 568.67,254.76 569.55,254.93 570.43,255.10 571.31,255.27 572.18,255.45 573.06,255.63 573.94,255.81 574.82,256.00 575.70,256.19 576.57,256.39 577.45,256.59 578.33,256.79 579.21,256.99 580.09,257.20 580.96,257.41 581.84,257.62 582.72,257.83 583.60,258.05 584.48,258.26 585.35,258.48 586.23,258.70 587.11,258.92 587.99,259.15 588.87,259.37 589.74,259.59 590.62,259.82 591.50,260.05 592.38,260.27 593.26,260.50 594.13,260.72 595.01,260.95 595.89,261.18 596.77,261.40 597.65,261.63 598.52,261.86 599.40,262.08 600.28,262.30 601.16,262.53 602.04,262.75 602.91,262.97 603.79,263.19 604.67,263.41 605.55,263.62 606.43,263.84 607.30,264.05 608.18,264.26 609.06,264.47 609.94,264.68 610.82,264.88 611.69,265.09 612.57,265.28 613.45,265.48 614.33,265.68 615.21,265.87 616.08,266.05 616.96,266.24 617.84,266.42 618.72,266.60 619.60,266.77 620.47,266.95 621.35,267.11 622.23,267.28 623.11,267.44 623.99,267.59 624.86,267.75 625.74,267.89 626.62,268.04 627.50,268.18 628.38,268.31 629.25,268.44 630.13,268.57 631.01,268.69 631.89,268.80 632.77,268.91 633.64,269.02 634.52,269.12 635.40,269.22 636.28,269.31 637.16,269.39 638.03,269.47 638.91,269.54 639.79,269.61 640.67,269.67 641.55,269.73 642.42,269.78 643.30,269.83 644.18,269.86 645.06,269.90 645.94,269.92 646.81,269.95 647.69,269.97 648.57,269.99 649.45,270.01 650.33,270.03 651.20,270.04 652.08,270.06 652.96,270.07 653.84,270.09 654.72,270.10 655.59,270.11 656.47,270.12 657.35,270.13 658.23,270.14 659.11,270.15 659.98,270.16 660.86,270.17 661.74,270.17 662.62,270.18 663.50,270.18 664.37,270.18 665.25,270.19 666.13,270.19 667.01,270.19 667.89,270.20 668.76,270.20 669.64,270.20 670.52,270.20 671.40,270.20 672.28,270.20 673.15,270.20 674.03,270.20 674.91,270.20 675.79,270.20 676.67,270.20 677.54,270.20 678.42,270.20 679.30,270.20 680.18,270.20 681.06,270.20 681.93,270.20 682.81,270.20 683.69,270.20 684.57,270.20 685.45,270.20 686.32,270.20 687.20,270.20 688.08,270.20 688.96,270.20 689.84,270.20 690.71,270.20 691.59,270.20 692.47,270.20 693.35,270.20 694.23,270.20 695.10,270.20 695.98,270.20 696.86,270.20 697.74,270.20 698.62,270.20 699.49,270.20 700.37,270.20 701.25,270.20 702.13,270.20 703.01,270.20 703.88,270.20 704.76,270.20 705.64,270.20 706.52,270.20 707.40,270.20 708.27,270.20 709.15,270.20 710.03,270.20 710.91,270.20 711.79,270.20 712.66,270.20 713.54,270.20 714.42,270.20 715.30,270.20 716.18,270.20 717.05,270.20 717.93,270.20 718.81,270.20 719.69,270.20 720.57,270.20 721.44,270.20 722.32,270.20 723.20,270.20" fill="none" stroke="#ff0000" stroke-width="2"/>
<polyline points="372.00,270.20 372.88,270.20 373.76,270.20 374.63,270.20 375.51,270.20 376.39,270.20 377.27,270.20 378.15,270.20 379.02,270.20 379.90,270.20 380.78,270.20 381.66,270.20 382.54,270.20 383.41,270.20 384.29,270.20 385.17,270.20 386.05,270.20 386.93,270.20 387.80,270.20 388.68,270.20 389.56,270.20 390.44,270.20 391.32,270.20 392.19,270.20 393.07,270.20 393.95,270.20 394.83,270.20 395.71,270.19 396.58,270.19 397.46,270.19 398.34,270.19 399.22,270.19 400.10,270.18 400.97,270.18 401.85,270.18 402.73,270.17 403.61,270.17 404.49,270.16 405.36,270.16 406.24,270.15 407.12,270.14 408.00,270.14 408.88,270.13 409.75,270.12 410.63,270.11 411.51,270.10 412.39,270.09 413.27,270.08 414.14,270.07 415.02,270.06 415.90,270.05 416.78,270.04 417.66,270.02 418.53,270.01 419.41,269.99 420.29,269.98 421.17,269.96 422.05,269.94 422.92,269.92 423.80,269.90 424.68,269.88 425.56,269.85 426.44,269.82 427.31,269.78 428.19,269.74 429.07,269.70 429.95,269.66 430.83,269.61 431.70,269.55 432.58,269.49 433.46,269.43 434.34,269.37 435.22,269.30 436.09,269.23 436.97,269.16 437.85,269.08 438.73,269.00 439.61,268.91 440.48,268.83 441.36,268.74 442.24,268.64 443.12,268.55 444.00,268.45 444.87,268.35 445.75,268.24 446.63,268.14 447.51,268.02 448.39,267.91 449.26,267.80 450.14,267.68 451.02,267.56 451.90,267.43 452.78,267.31 453.65,267.18 454.53,267.05 455.41,266.91 456.29,266.78 457.17,266.64 458.04,266.50 458.92,266.36 459.80,266.22 460.68,266.07 461.56,265.92 462.43,265.77 463.31,265.62 464.19,265.47 465.07,265.31 465.95,265.16 466.82,265.00 467.70,264.84 468.58,264.68 469.46,264.51 470.34,264.35 471.21,264.18 472.09,264.02 472.97,263.85 473.85,263.68 474.73,263.51 475.60,263.34 476.48,263.17 477.36,262.99 478.24,262.82 479.12,262.64 479.99,262.47 480.87,262.29 481.75,262.12 482.63,261.94 483.51,261.76 484.38,261.58 485.26,261.40 486.14,261.23 487.02,261.05 487.90,260.87 488.77,260.69 489.65,260.51 490.53,260.33 491.41,260.15 492.29,259.98 493.16,259.80 494.04,259.62 494.92,259.44 495.80,259.27 496.68,259.09 497.55,258.91 498.43,258.74 499.31,258.57 500.19,258.39 501.07,258.22 501.94,258.05 502.82,257.88 503.70,257.71 504.58,257.54 505.46,257.38 506.33,257.21 507.21,257.05 508.09,256.89 508.97,256.73 509.85,256.57 510.72,256.41 511.60,256.26 512.48,256.11 513.36,255.96 514.24,255.81 515.11,255.66 515.99,255.52 516.87,255.38 517.75,255.24 518.63,255.10 519.50,254.97 520.38,254.84 521.26,254.71 522.14,254.58 523.02,254.46 523.89,254.34 524.77,254.23 525.65,254.11 526.53,254.00 527.41,253.90 528.28,253.79 529.16,253.70 530.04,253.60 530.92,253.51 531.80,253.42 532.67,253.34 533.55,253.26 534.43,253.18 535.31,253.11 536.19,253.04 537.06,252.98 537.94,252.92 538.82,252.87 539.70,252.82 540.58,252.77 541.45,252.73 542.33,252.70 543.21,252.67 544.09,252.64 544.97,252.62 545.84,252.61 546.72,252.60 547.60,252.60 548.48,252.60 549.36,252.61 550.23,252.62 551.11,252.64 551.99,252.67 552.87,252.70 553.75,252.73 554.62,252.77 555.50,252.82 556.38,252.87 557.26,252.92 558.14,252.98 559.01,253.04 559.89,253.11 560.77,253.18 561.65,253.26 562.53,253.34 563.40,253.42 564.28,253.51 565.16,253.60 566.04,253.70 566.92,253.79 567.79,253.90 568.67,254.00 569.55,254.11 570.43,254.23 571.31,254.34 572.18,254.46 573.06,254.58 573.94,254.71 574.82,254.84 575.70,254.97 576.57,255.10 577.45,255.24 578.33,255.38 579.21,255.52 580.09,255.66 580.96,255.81 581.84,255.96 582.72,256.11 583.60,256.26 584.48,256.41 585.35,256.57 586.23,256.73 587.11,256.89 587.99,257.05 588.87,257.21 589.74,257.38 590.62,257.54 591.50,257.71 592.38,257.88 593.26,258.05 594.13,258.22 595.01,258.39 595.89,258.57 596.77,258.74 597.65,258.91 598.52,259.09 599.40,259.27 600.28,259.44 601.16,259.62 602.04,259.80 602.91,259.98 603.79,260.15 604.67,260.33 605.55,260.51 606.43,260.69 607.30,260.87 608.18,261.05 609.06,261.23 609.94,261.40 610.82,261.58 611.69,261.76 612.57,261.94 613.45,262.12 614.33,262.29 615.21,262.47 616.08,262.64 616.96,262.82 617.84,262.99 618.72,263.17 619.60,263.34 620.47,263.51 621.35,263.68 622.23,263.85 623.11,264.02 623.99,264.18 624.86,264.35 625.74,264.51 626.62,264.68 627.50,264.84 628.38,265.00 629.25,265.16 630.13,265.31 631.01,265.47 631.89,265.62 632.77,265.77 633.64,265.92 634.52,266.07 635.40,266.22 636.28,266.36 637.16,266.50 638.03,266.64 638.91,266.78 639.79,266.91 640.67,267.05 641.55,267.18 642.42,267.31 643.30,267.43 644.18,267.56 645.06,267.68 645.94,267.80 646.81,267.91 647.69,268.02 648.57,268.14 649.45,268.24 650.33,268.35 651.20,268.45 652.08,268.55 652.96,268.64 653.84,268.74 654.72,268.83 655.59,268.91 656.47,269.00 657.35,269.08 658.23,269.16 659.11,269.23 659.98,269.30 660.86,269.37 661.74,269.43 662.62,269.49 663.50,269.55 664.37,269.61 665.25,269.66 666.13,269.70 667.01,269.74 667.89,269.78 668.76,269.82 669.64,269.85 670.52,269.88 671.40,269.90 672.28,269.92 673.15,269.94 674.03,269.96 674.91,269.98 675.79,269.99 676.67,270.01 677.54,270.02 678.42,270.04 679.30,270.05 680.18,270.06 681.06,270.07 681.93,270.08 682.81,270.09 683.69,270.10 684.57,270.11 685.45,270.12 686.32,270.13 687.20,270.14 688.08,270.14 688.96,270.15 689.84,270.16 690.71,270.16 691.59,270.17 692.47,270.17 693.35,270.18 694.23,270.18 695.10,270.18 695.98,270.19 696.86,270.19 697.74,270.19 698.62,270.19 699.49,270.19 700.37,270.20 701.25,270.20 702.13,270.20 703.01,270.20 703.88,270.20 704.76,270.20 705.64,270.20 706.52,270.20 707.40,270.20 708.27,270.20 709.15,270.20 710.03,270.20 710.91,270.20 711.79,270.20 712.66,270.20 713.54,270.20 714.42,270.20 715.30,270.20 716.18,270.20 717.05,270.20 717.93,270.20 718.81,270.20 719.69,270.20 720.57,270.20 721.44,270.20 722.32,270.20 723.20,270.20" fill="none" stroke="#0000ff" stroke-width="2"/>
<polyline points="372.00,270.19 372.88,270.19 373.76,270.18 374.63,270.18 375.51,270.18 376.39,270.18 377.27,270.17 378.15,270.17 379.02,270.16 379.90,270.16 380.78,270.15 381.66,270.15 382.54,270.14 383.41,270.14 384.29,270.13 385.17,270.12 386.05,270.12 386.93,270.11 387.80,270.10 388.68,270.09 389.56,270.08 390.44,270.07 391.32,270.06 392.19,270.05 393.07,270.04 393.95,270.03 394.83,270.02 395.71,270.01 396.58,270.00 397.46,269.98 398.34,269.97 399.22,269.95 400.10,269.94 400.97,269.92 401.85,269.91 402.73,269.89 403.61,269.86 404.49,269.84 405.36,269.81 406.24,269.78 407.12,269.75 408.00,269.71 408.88,269.67 409.75,269.63 410.63,269.59 411.51,269.54 412.39,269.49 413.27,269.44 414.14,269.39 415.02,269.33 415.90,269.27 416.78,269.21 417.66,269.15 418.53,269.08 419.41,269.01 420.29,268.94 421.17,268.87 422.05,268.79 422.92,268.71 423.80,268.63 424.68,268.55 425.56,268.47 426.44,268.38 427.31,268.29 428.19,268.20 429.07,268.11 429.95,268.02 430.83,267.92 431.70,267.82 432.58,267.72 433.46,267.62 434.34,267.52 435.22,267.41 436.09,267.31 436.97,267.20 437.85,267.09 438.73,266.97 439.61,266.86 440.48,266.74 441.36,266.63 442.24,266.51 443.12,266.39 444.00,266.26 444.87,266.14 445.75,266.02 446.63,265.89 447.51,265.76 448.39,265.63 449.26,265.50 450.14,265.37 451.02,265.24 451.90,265.11 452.78,264.97 453.65,264.83 454.53,264.70 455.41,264.56 456.29,264.42 457.17,264.28 458.04,264.14 458.92,264.00 459.80,263.85 460.68,263.71 461.56,263.57 462.43,263.42 463.31,263.27 464.19,263.13 465.07,262.98 465.95,262.83 466.82,262.68 467.70,262.53 468.58,262.38 469.46,262.24 470.34,262.08 471.21,261.93 472.09,261.78 472.97,261.63 473.85,261.48 474.73,261.33 475.60,261.18 476.48,261.02 477.36,260.87 478.24,260.72 479.12,260.57 479.99,260.42 480.87,260.26 481.75,260.11 482.63,259.96 483.51,259.81 484.38,259.66 485.26,259.51 486.14,259.36 487.02,259.21 487.90,259.06 488.77,258.91 489.65,258.76 490.53,258.61 491.41,258.47 492.29,258.32 493.16,258.17 494.04,258.03 494.92,257.88 495.80,257.74 496.68,257.60 497.55,257.46 498.43,257.32 499.31,257.18 500.19,257.04 501.07,256.90 501.94,256.76 502.82,256.63 503.70,256.50 504.58,256.36 505.46,256.23 506.33,256.10 507.21,255.97 508.09,255.85 508.97,255.72 509.85,255.60 510.72,255.48 511.60,255.36 512.48,255.24 513.36,255.12 514.24,255.01 515.11,254.90 515.99,254.79 516.87,254.68 517.75,254.57 518.63,254.47 519.50,254.37 520.38,254.27 521.26,254.17 522.14,254.08 523.02,253.98 523.89,253.89 524.77,253.81 525.65,253.72 526.53,253.64 527.41,253.56 528.28,253.48 529.16,253.41 530.04,253.34 530.92,253.27 531.80,253.20 532.67,253.14 533.55,253.08 534.43,253.03 535.31,252.97 536.19,252.92 537.06,252.88 537.94,252.83 538.82,252.79 539.70,252.76 540.58,252.73 541.45,252.70 542.33,252.67 543.21,252.65 544.09,252.63 544.97,252.62 545.84,252.61 546.72,252.60 547.60,252.60 548.48,252.60 549.36,252.61 550.23,252.62 551.11,252.63 551.99,252.65 552.87,252.67 553.75,252.70 554.62,252.73 555.50,252.76 556.38,252.79 557.26,252.83 558.14,252.88 559.01,252.92 559.89,252.97 560.77,253.03 561.65,253.08 562.53,253.14 563.40,253.20 564.28,253.27 565.16,253.34 566.04,253.41 566.92,253.48 567.79,253.56 568.67,253.64 569.55,253.72 570.43,253.81 571.31,253.89 572.18,253.98 573.06,254.08 573.94,254.17 574.82,254.27 575.70,254.37 576.57,254.47 577.45,254.57 578.33,254.68 579.21,254.79 580.09,254.90 580.96,255.01 581.84,255.12 582.72,255.24 583.60,255.36 584.48,255.48 585.35,255.60 586.23,255.72 587.11,255.85 587.99,255.97 588.87,256.10 589.74,256.23 590.62,256.36 591.50,256.50 592.38,256.63 593.26,256.76 594.13,256.90 595.01,257.04 595.89,257.18 596.77,257.32 597.65,257.46 598.52,257.60 599.40,257.74 600.28,257.88 601.16,258.03 602.04,258.17 602.91,258.32 603.79,258.47 604.67,258.61 605.55,258.76 606.43,258.91 607.30,259.06 608.18,259.21 609.06,259.36 609.94,259.51 610.82,259.66 611.69,259.81 612.57,259.96 613.45,260.11 614.33,260.26 615.21,260.42 616.08,260.57 616.96,260.72 617.84,260.87 618.72,261.02 619.60,261.18 620.47,261.33 621.35,261.48 622.23,261.63 623.11,261.78 623.99,261.93 624.86,262.08 625.74,262.24 626.62,262.38 627.50,262.53 628.38,262.68 629.25,262.83 630.13,262.98 631.01,263.13 631.89,263.27 632.77,263.42 633.64,263.57 634.52,263.71 635.40,263.85 636.28,264.00 637.16,264.14 638.03,264.28 638.91,264.42 639.79,264.56 640.67,264.70 641.55,264.83 642.42,264.97 643.30,265.11 644.18,265.24 645.06,265.37 645.94,265.50 646.81,265.63 647.69,265.76 648.57,265.89 649.45,266.02 650.33,266.14 651.20,266.26 652.08,266.39 652.96,266.51 653.84,266.63 654.72,266.74 655.59,266.86 656.47,266.97 657.35,267.09 658.23,267.20 659.11,267.31 659.98,267.41 660.86,267.52 661.74,267.62 662.62,267.72 663.50,267.82 664.37,267.92 665.25,268.02 666.13,268.11 667.01,268.20 667.89,268.29 668.76,268.38 669.64,268.47 670.52,268.55 671.40,268.63 672.28,268.71 673.15,268.79 674.03,268.87 674.91,268.94 675.79,269.01 676.67,269.08 677.54,269.15 678.42,269.21 679.30,269.27 680.18,269.33 681.06,269.39 681.93,269.44 682.81,269.49 683.69,269.54 684.57,269.59 685.45,269.63 686.32,269.67 687.20,269.71 688.08,269.75 688.96,269.78 689.84,269.81 690.71,269.84 691.59,269.86 692.47,269.89 693.35,269.91 694.23,269.92 695.10,269.94 695.98,269.95 696.86,269.97 697.74,269.98 698.62,270.00 699.49,270.01 700.37,270.02 701.25,270.03 702.13,270.04 703.01,270.05 703.88,270.06 704.76,270.07 705.64,270.08 706.52,270.09 707.40,270.10 708.27,270.11 709.15,270.12 710.03,270.12 710.91,270.13 711.79,270.14 712.66,270.14 713.54,270.15 714.42,270.15 715.30,270.16 716.18,270.16 717.05,270.17 717.93,270.17 718.81,270.18 719.69,270.18 720.57,270.18 721.44,270.18 722.32,270.19 723.20,270.19" fill="none" stroke="#00ff00" stroke-width="2"/>
<line x1="559.3" y1="46.3" x2="581" y2="22.9" stroke="#00ff00" stroke-width="1.3" stroke-dasharray="1.9 1.2"/>
<line x1="577.9" y1="67.3" x2="600.2" y2="44.1" stroke="#0000ff" stroke-width="1.3" stroke-dasharray="1.9 1.2"/>
<line x1="607.2" y1="78.8" x2="623.7" y2="60.6" stroke="#ff0000" stroke-width="1.3" stroke-dasharray="1.9 1.2"/>
<line x1="578.6" y1="158.8" x2="606.5" y2="129.4" stroke="#00ff00" stroke-width="1.3" stroke-dasharray="1.9 1.2"/>
<line x1="613.2" y1="167.3" x2="635.6" y2="143.6" stroke="#0000ff" stroke-width="1.3" stroke-dasharray="1.9 1.2"/>
<line x1="629" y1="174.7" x2="649.7" y2="158.2" stroke="#ff0000" stroke-width="1.3" stroke-dasharray="1.9 1.2"/>
<line x1="561.4" y1="252.8" x2="586.2" y2="226.9" stroke="#00ff00" stroke-width="1.3" stroke-dasharray="1.9 1.2"/>
<line x1="600.2" y1="258.9" x2="615.7" y2="243.4" stroke="#0000ff" stroke-width="1.3" stroke-dasharray="1.9 1.2"/>
<line x1="619.4" y1="266.9" x2="633.2" y2="256.1" stroke="#ff0000" stroke-width="1.3" stroke-dasharray="1.9 1.2"/>
<line x1="547.60" y1="9.6" x2="547.60" y2="287.5" stroke="#333" stroke-width="1.45" stroke-dasharray="6 3.7"/>
<rect x="372.0" y="9.5" width="351.20" height="278.2" fill="none" stroke="#454344" stroke-width="1.5"/>
<text x="389" y="25.9" font-size="14.5" font-weight="bold" fill="#231f20" letter-spacing="0.85"><tspan font-style="italic">E</tspan>=80GPa</text>
<text x="391" y="45.9" font-size="14.5" font-weight="bold" fill="#231f20" letter-spacing="0.92"><tspan font-style="italic">q</tspan>=0.2nN/nm</text>
<text x="387.4" y="132.8" font-size="14.5" font-weight="bold" fill="#231f20" letter-spacing="0.7"><tspan font-style="italic">y</tspan><tspan font-size="9.3">0</tspan>=100nm</text>
<text x="390.8" y="154" font-size="14.5" font-weight="bold" fill="#231f20" letter-spacing="0.85"><tspan font-style="italic">q</tspan>=0.2nN/nm</text>
<text x="388.8" y="228" font-size="14.5" font-weight="bold" fill="#231f20" letter-spacing="0.9"><tspan font-style="italic">E</tspan>=80GPa</text>
<text x="388.5" y="248.4" font-size="14.5" font-weight="bold" fill="#231f20" letter-spacing="0.7"><tspan font-style="italic">y</tspan><tspan font-size="9.3">0</tspan>=100nm</text>
<text transform="translate(584,23.7) scale(1,1.1)" font-size="11.8" font-weight="bold" fill="#00ff00" letter-spacing="0.9"><tspan font-style="italic">y</tspan><tspan font-size="7.6">0</tspan>=200nm</text>
<text transform="translate(604.2,41.6) scale(1,1.1)" font-size="11.8" font-weight="bold" fill="#0000ff" letter-spacing="0.9"><tspan font-style="italic">y</tspan><tspan font-size="7.6">0</tspan>=100nm</text>
<text transform="translate(629,59.2) scale(1,1.1)" font-size="11.8" font-weight="bold" fill="#ff0000" letter-spacing="0.9"><tspan font-style="italic">y</tspan><tspan font-size="7.6">0</tspan>=50nm</text>
<text transform="translate(607,125.1) scale(1,1.1)" font-size="11.8" font-weight="bold" fill="#00ff00" letter-spacing="0.9"><tspan font-style="italic">E</tspan>=160GPa</text>
<text transform="translate(635.5,140.2) scale(1,1.1)" font-size="11.8" font-weight="bold" fill="#0000ff" letter-spacing="0.9"><tspan font-style="italic">E</tspan>=80GPa</text>
<text transform="translate(650.3,156) scale(1,1.1)" font-size="11.8" font-weight="bold" fill="#ff0000" letter-spacing="1.1"><tspan font-style="italic">E</tspan>=20GPa</text>
<text transform="translate(586.7,222) scale(1,1.1)" font-size="11.8" font-weight="bold" fill="#00ff00" letter-spacing="1.15"><tspan font-style="italic">q</tspan>=0.1nN/nm</text>
<text transform="translate(616.7,239) scale(1,1.1)" font-size="11.8" font-weight="bold" fill="#0000ff" letter-spacing="1.1"><tspan font-style="italic">q</tspan>=0.2nN/nm</text>
<text transform="translate(633,255.3) scale(1,1.1)" font-size="11.8" font-weight="bold" fill="#ff0000" letter-spacing="0.9"><tspan font-style="italic">q</tspan>=0.5nN/nm</text>
<text x="350.4" y="50.7" font-size="12" font-weight="bold" font-style="normal" fill="#231f20" letter-spacing="1.0" text-anchor="start" >0.2</text>
<text x="350.4" y="68.80000000000001" font-size="12" font-weight="bold" font-style="normal" fill="#231f20" letter-spacing="1.0" text-anchor="start" >0.1</text>
<text x="356.6" y="87.4" font-size="12.3" font-weight="bold" font-style="normal" fill="#231f20" letter-spacing="0" text-anchor="start" >0</text>
<text x="350.4" y="144.60000000000002" font-size="12" font-weight="bold" font-style="normal" fill="#231f20" letter-spacing="1.0" text-anchor="start" >0.2</text>
<text x="350.4" y="162.70000000000002" font-size="12" font-weight="bold" font-style="normal" fill="#231f20" letter-spacing="1.0" text-anchor="start" >0.1</text>
<text x="356.6" y="181.3" font-size="12.3" font-weight="bold" font-style="normal" fill="#231f20" letter-spacing="0" text-anchor="start" >0</text>
<text x="350.4" y="238.5" font-size="12" font-weight="bold" font-style="normal" fill="#231f20" letter-spacing="1.0" text-anchor="start" >0.2</text>
<text x="350.4" y="256.6" font-size="12" font-weight="bold" font-style="normal" fill="#231f20" letter-spacing="1.0" text-anchor="start" >0.1</text>
<text x="356.6" y="275.2" font-size="12.3" font-weight="bold" font-style="normal" fill="#231f20" letter-spacing="0" text-anchor="start" >0</text>
<text x="362.5" y="303.0" font-size="17" font-weight="normal" font-style="normal" fill="#231f20" letter-spacing="1.5" text-anchor="start" >-1</text>
<text x="451.3" y="302.7" font-size="17" font-weight="normal" font-style="normal" fill="#231f20" letter-spacing="1.1" text-anchor="start" >(μm)</text>
<text x="548" y="303.0" font-size="17" font-weight="normal" font-style="normal" fill="#231f20" letter-spacing="0" text-anchor="start" >0</text>
<text x="715.6" y="303.0" font-size="17" font-weight="normal" font-style="normal" fill="#231f20" letter-spacing="0" text-anchor="start" >1</text>
<text x="0.4" y="14.4" font-size="30" font-weight="normal" font-style="normal" fill="#231f20" letter-spacing="0" text-anchor="start" >a</text>
<text x="1.0" y="146.4" font-size="30" font-weight="normal" font-style="normal" fill="#231f20" letter-spacing="0" text-anchor="start" >b</text>
<text x="348.7" y="14.4" font-size="30" font-weight="normal" font-style="normal" fill="#231f20" letter-spacing="0" text-anchor="start" >c</text>
<path d="M23.60,72.60 L25.60,72.60 L27.61,72.60 L29.61,72.60 L31.61,72.60 L33.61,72.60 L35.62,72.60 L37.62,72.60 L39.62,72.57 L41.63,72.52 L43.63,72.44 L45.63,72.33 L47.64,72.19 L49.64,72.03 L51.64,71.84 L53.64,71.63 L55.65,71.40 L57.65,71.14 L59.65,70.87 L61.66,70.58 L63.66,70.27 L65.66,69.94 L67.67,69.59 L69.67,69.23 L71.67,68.86 L73.67,68.47 L75.68,68.07 L77.68,67.66 L79.68,67.24 L81.69,66.81 L83.69,66.38 L85.69,65.93 L87.70,65.48 L89.70,65.03 L91.70,64.57 L93.70,64.11 L95.71,63.65 L97.71,63.19 L99.71,62.72 L101.72,62.26 L103.72,61.80 L105.72,61.35 L107.73,60.90 L109.73,60.45 L111.73,60.01 L113.73,59.58 L115.74,59.16 L117.74,58.74 L119.74,58.34 L121.75,57.95 L123.75,57.57 L125.75,57.21 L127.76,56.86 L129.76,56.53 L131.76,56.21 L133.76,55.91 L135.77,55.63 L137.77,55.37 L139.77,55.13 L141.78,54.92 L143.78,54.72 L145.78,54.55 L147.79,54.41 L149.79,54.29 L151.79,54.20 L153.79,54.14 L155.80,54.11 L157.80,54.10 L159.80,54.13 L161.81,54.19 L163.81,54.27 L165.81,54.38 L167.81,54.52 L169.82,54.69 L171.82,54.88 L173.82,55.09 L175.83,55.32 L177.83,55.58 L179.83,55.85 L181.84,56.15 L183.84,56.46 L185.84,56.79 L187.84,57.14 L189.85,57.50 L191.85,57.87 L193.85,58.26 L195.86,58.66 L197.86,59.07 L199.86,59.49 L201.87,59.92 L203.87,60.36 L205.87,60.81 L207.87,61.26 L209.88,61.71 L211.88,62.17 L213.88,62.63 L215.89,63.09 L217.89,63.56 L219.89,64.02 L221.90,64.48 L223.90,64.94 L225.90,65.39 L227.90,65.84 L229.91,66.29 L231.91,66.73 L233.91,67.16 L235.92,67.58 L237.92,67.99 L239.92,68.39 L241.93,68.78 L243.93,69.16 L245.93,69.52 L247.93,69.87 L249.94,70.20 L251.94,70.52 L253.94,70.81 L255.95,71.09 L257.95,71.35 L259.95,71.59 L261.96,71.80 L263.96,71.99 L265.96,72.16 L267.96,72.30 L269.97,72.42 L271.97,72.51 L273.97,72.57 L275.98,72.60 L277.98,72.60 L279.98,72.60 L281.99,72.60 L283.99,72.60 L285.99,72.60 L287.99,72.60 L290.00,72.60 L292.00,72.60 C293.2,75.1 291.4,77.5 292.40,80.00 L292.00,80.00 L290.00,80.00 L287.99,80.00 L285.99,80.00 L283.99,80.00 L281.99,80.00 L279.98,80.00 L277.98,80.00 L275.98,80.00 L273.97,79.97 L271.97,79.92 L269.97,79.84 L267.96,79.74 L265.96,79.62 L263.96,79.47 L261.96,79.30 L259.95,79.12 L257.95,78.91 L255.95,78.69 L253.94,78.45 L251.94,78.19 L249.94,77.91 L247.93,77.62 L245.93,77.32 L243.93,77.01 L241.93,76.68 L239.92,76.34 L237.92,75.99 L235.92,75.63 L233.91,75.26 L231.91,74.89 L229.91,74.51 L227.90,74.12 L225.90,73.73 L223.90,73.33 L221.90,72.93 L219.89,72.53 L217.89,72.13 L215.89,71.73 L213.88,71.32 L211.88,70.92 L209.88,70.52 L207.87,70.13 L205.87,69.74 L203.87,69.35 L201.87,68.97 L199.86,68.59 L197.86,68.23 L195.86,67.87 L193.85,67.52 L191.85,67.19 L189.85,66.86 L187.84,66.54 L185.84,66.24 L183.84,65.96 L181.84,65.68 L179.83,65.43 L177.83,65.19 L175.83,64.96 L173.82,64.76 L171.82,64.58 L169.82,64.41 L167.81,64.27 L165.81,64.15 L163.81,64.05 L161.81,63.98 L159.80,63.93 L157.80,63.90 L155.80,63.90 L153.79,63.93 L151.79,63.99 L149.79,64.07 L147.79,64.17 L145.78,64.30 L143.78,64.44 L141.78,64.61 L139.77,64.80 L137.77,65.01 L135.77,65.23 L133.76,65.48 L131.76,65.74 L129.76,66.01 L127.76,66.30 L125.75,66.61 L123.75,66.92 L121.75,67.25 L119.74,67.59 L117.74,67.94 L115.74,68.30 L113.73,68.67 L111.73,69.04 L109.73,69.43 L107.73,69.81 L105.72,70.21 L103.72,70.60 L101.72,71.00 L99.71,71.40 L97.71,71.81 L95.71,72.21 L93.70,72.61 L91.70,73.01 L89.70,73.41 L87.70,73.81 L85.69,74.20 L83.69,74.58 L81.69,74.96 L79.68,75.34 L77.68,75.70 L75.68,76.06 L73.67,76.41 L71.67,76.74 L69.67,77.07 L67.67,77.38 L65.66,77.68 L63.66,77.97 L61.66,78.24 L59.65,78.50 L57.65,78.73 L55.65,78.95 L53.64,79.16 L51.64,79.34 L49.64,79.50 L47.64,79.64 L45.63,79.76 L43.63,79.86 L41.63,79.93 L39.62,79.98 L37.62,80.00 L35.62,80.00 L33.61,80.00 L31.61,80.00 L29.61,80.00 L27.61,80.00 L25.60,80.00 L23.60,80.00 C22.6,77.5 22.6,75.1 23.60,72.60 Z" fill="#00ffff" stroke="#231f20" stroke-width="1" stroke-linejoin="round"/>
<circle cx="153.3" cy="75.8" r="11.2" fill="#ffc40c" stroke="#231f20" stroke-width="1.2"/>
<rect x="50.8" y="44.5" width="207.2" height="64.9" fill="none" stroke="#ee1c25" stroke-width="1.4" stroke-dasharray="1.4 3.4"/>
<text x="58.6" y="60.0" font-size="16.6" font-weight="normal" font-style="normal" fill="#231f20" letter-spacing="0" text-anchor="start" >NW</text>
<text x="119.5" y="105.5" font-size="16" font-weight="normal" font-style="normal" fill="#231f20" letter-spacing="1.1" text-anchor="start" >AFM Tip</text>
<path d="M253.4,5.9 C256.5,3.6 259.5,2.4 262.6,2.4 C268.5,2.4 274.5,5.9 280.2,5.9 C284.5,5.9 288,4.4 291.5,4.4 C289.5,14 287.5,22 286.6,30 C285.6,38 284.8,46 281.5,51.5 C279.8,54.5 277.2,56.2 274.5,56.2 C271.8,56.2 269.8,54 268.2,50.5 C265.8,45.5 263.5,39.5 262,35 L253.4,5.9 Z" fill="#ffc40c" stroke="#231f20" stroke-width="1.2" stroke-linejoin="round"/>
<polygon points="302.8,24.8 318.8,36.3 313.2,55.1 292.3,55.1 286.6,36.3" fill="#00ffff" stroke="#231f20" stroke-width="1.1" stroke-linejoin="miter"/>
<line x1="305" y1="24.6" x2="333.8" y2="24.6" stroke="#231f20" stroke-width="1" stroke-dasharray="2 1.2"/>
<line x1="314" y1="55.2" x2="333.8" y2="55.2" stroke="#231f20" stroke-width="1" stroke-dasharray="2 1.2"/>
<text x="326.4" y="46.5" font-size="16" font-weight="normal" font-style="italic" fill="#231f20" letter-spacing="0" text-anchor="start" >h</text>
<line x1="50" y1="165" x2="258" y2="165" stroke="#3a3637" stroke-width="1.3"/>
<line x1="50.0" y1="160.0" x2="50.0" y2="169.8" stroke="#231f20" stroke-width="1.8"/>
<line x1="258.0" y1="160.0" x2="258.0" y2="169.8" stroke="#231f20" stroke-width="1.8"/>
<polygon points="50.8,165 58.2,160.2 58.2,169.8" fill="#231f20"/>
<polygon points="257.2,165 249.6,160.2 249.6,169.8" fill="#231f20"/>
<text transform="translate(148.4,163.5) skewX(-8)" font-size="17" font-style="italic" fill="#231f20">l</text>
<polyline points="155.4,189.5 155.4,210.9 178,210.9" fill="none" stroke="#231f20" stroke-width="1.8"/>
<polyline points="150.2,197 155.4,189.3 160.6,197" fill="none" stroke="#231f20" stroke-width="1.8"/>
<polyline points="169.7,205.8 178.3,210.9 169.7,215.9" fill="none" stroke="#231f20" stroke-width="1.8"/>
<text x="163.0" y="195.9" font-size="16.5" font-weight="normal" font-style="normal" fill="#231f20" letter-spacing="0" text-anchor="start" >Y</text>
<text x="181.1" y="216.9" font-size="16.5" font-weight="normal" font-style="normal" fill="#231f20" letter-spacing="0" text-anchor="start" >X</text>
<text transform="translate(70.6,217.8) skewX(-13)" font-size="16.5" font-style="italic" fill="#231f20">f</text>
<text x="77.75" y="217.8" font-size="16" font-style="italic" fill="#231f20">=</text>
<text x="89.85" y="217.8" font-size="16" font-style="italic" fill="#231f20">q</text>
<text x="99.55" y="217.8" font-size="16" font-style="italic" fill="#231f20">L</text>
<polyline points="50.00,251.30 52.08,251.30 54.17,251.30 56.25,251.30 58.33,251.27 60.41,251.22 62.50,251.15 64.58,251.04 66.66,250.92 68.75,250.77 70.83,250.60 72.91,250.41 75.00,250.21 77.08,249.98 79.16,249.75 81.25,249.49 83.33,249.22 85.41,248.94 87.49,248.65 89.58,248.35 91.66,248.04 93.74,247.72 95.83,247.40 97.91,247.07 99.99,246.74 102.08,246.41 104.16,246.07 106.24,245.74 108.32,245.41 110.41,245.08 112.49,244.75 114.57,244.43 116.66,244.11 118.74,243.80 120.82,243.50 122.91,243.21 124.99,242.94 127.07,242.67 129.15,242.42 131.24,242.18 133.32,241.96 135.40,241.76 137.49,241.57 139.57,241.41 141.65,241.26 143.74,241.14 145.82,241.04 147.90,240.97 149.98,240.92 152.07,240.90 154.15,240.91 156.23,240.95 158.32,241.01 160.40,241.10 162.48,241.21 164.56,241.34 166.65,241.50 168.73,241.68 170.81,241.87 172.90,242.09 174.98,242.32 177.06,242.56 179.15,242.82 181.23,243.10 183.31,243.38 185.40,243.68 187.48,243.98 189.56,244.29 191.64,244.61 193.73,244.94 195.81,245.27 197.89,245.60 199.98,245.94 202.06,246.27 204.14,246.60 206.23,246.94 208.31,247.27 210.39,247.59 212.47,247.91 214.56,248.22 216.64,248.53 218.72,248.82 220.81,249.11 222.89,249.38 224.97,249.64 227.06,249.89 229.14,250.12 231.22,250.33 233.30,250.53 235.39,250.70 237.47,250.86 239.55,250.99 241.64,251.11 243.72,251.19 245.80,251.26 247.89,251.29 249.97,251.30 252.05,251.30 254.13,251.30 256.22,251.30 258.30,251.30" fill="none" stroke="#0000ff" stroke-width="5.9"/>
<line x1="58.4" y1="231.82" x2="58.4" y2="240.72" stroke="#231f20" stroke-width="1.3"/>
<polygon points="52.80,239.02 64.00,239.02 58.4,248.72" fill="#231f20"/>
<line x1="76.1" y1="230.64" x2="76.1" y2="239.54" stroke="#231f20" stroke-width="1.3"/>
<polygon points="70.50,237.84 81.70,237.84 76.1,247.54" fill="#231f20"/>
<line x1="93.6" y1="228.30" x2="93.6" y2="237.20" stroke="#231f20" stroke-width="1.3"/>
<polygon points="88.00,235.50 99.20,235.50 93.6,245.20" fill="#231f20"/>
<line x1="110.6" y1="225.60" x2="110.6" y2="234.50" stroke="#231f20" stroke-width="1.3"/>
<polygon points="105.00,232.80 116.20,232.80 110.6,242.50" fill="#231f20"/>
<line x1="128.2" y1="223.08" x2="128.2" y2="231.98" stroke="#231f20" stroke-width="1.3"/>
<polygon points="122.60,230.28 133.80,230.28 128.2,239.98" fill="#231f20"/>
<line x1="145.5" y1="221.60" x2="145.5" y2="230.50" stroke="#231f20" stroke-width="1.3"/>
<polygon points="139.90,228.80 151.10,228.80 145.5,238.50" fill="#231f20"/>
<line x1="163.4" y1="221.81" x2="163.4" y2="230.71" stroke="#231f20" stroke-width="1.3"/>
<polygon points="157.80,229.01 169.00,229.01 163.4,238.71" fill="#231f20"/>
<line x1="180.8" y1="223.59" x2="180.8" y2="232.49" stroke="#231f20" stroke-width="1.3"/>
<polygon points="175.20,230.79 186.40,230.79 180.8,240.49" fill="#231f20"/>
<line x1="198.3" y1="226.22" x2="198.3" y2="235.12" stroke="#231f20" stroke-width="1.3"/>
<polygon points="192.70,233.42 203.90,233.42 198.3,243.12" fill="#231f20"/>
<line x1="215.6" y1="228.93" x2="215.6" y2="237.83" stroke="#231f20" stroke-width="1.3"/>
<polygon points="210.00,236.13 221.20,236.13 215.6,245.83" fill="#231f20"/>
<line x1="233.2" y1="231.07" x2="233.2" y2="239.97" stroke="#231f20" stroke-width="1.3"/>
<polygon points="227.60,238.27 238.80,238.27 233.2,247.97" fill="#231f20"/>
<line x1="250.5" y1="231.85" x2="250.5" y2="240.75" stroke="#231f20" stroke-width="1.3"/>
<polygon points="244.90,239.05 256.10,239.05 250.5,248.75" fill="#231f20"/>
<line x1="49.8" y1="235.5" x2="49.8" y2="273" stroke="#231f20" stroke-width="1.4"/>
<line x1="258.3" y1="234.8" x2="258.3" y2="273" stroke="#231f20" stroke-width="1.4"/>
<line x1="41.9" y1="245.0" x2="49.8" y2="237.8" stroke="#231f20" stroke-width="1.2"/>
<line x1="41.9" y1="252.8" x2="49.8" y2="245.6" stroke="#231f20" stroke-width="1.2"/>
<line x1="41.9" y1="260.6" x2="49.8" y2="253.4" stroke="#231f20" stroke-width="1.2"/>
<line x1="41.9" y1="268.4" x2="49.8" y2="261.2" stroke="#231f20" stroke-width="1.2"/>
<line x1="258.3" y1="242.5" x2="266.0" y2="235.3" stroke="#231f20" stroke-width="1.2"/>
<line x1="258.3" y1="250.1" x2="266.0" y2="242.9" stroke="#231f20" stroke-width="1.2"/>
<line x1="258.3" y1="257.7" x2="266.0" y2="250.5" stroke="#231f20" stroke-width="1.2"/>
<line x1="258.3" y1="265.3" x2="266.0" y2="258.1" stroke="#231f20" stroke-width="1.2"/>
<polygon points="44.9,271.7 54.6,271.7 49.8,281.2" fill="#231f20"/>
<polygon points="253.1,271.6 263.5,271.6 258.3,280.9" fill="#231f20"/>
<line x1="153.8" y1="252" x2="153.8" y2="279.4" stroke="#231f20" stroke-width="1.4"/>
<polygon points="148.8,253.8 159,253.8 153.9,244.9" fill="#231f20"/>
<path d="M27.6,265.3 C21,259.5 16.8,255 17.3,251.5 C17.8,247.3 22.5,244.3 28,242.5" fill="none" stroke="#231f20" stroke-width="1.5"/>
<polygon points="23.7,237.9 34.8,237.2 29.6,246.6" fill="#231f20"/>
<path d="M279.3,266 C285.5,260 289.6,256 289.1,252.3 C288.6,247.5 284.5,244.2 279.5,242.5" fill="none" stroke="#231f20" stroke-width="1.5"/>
<polygon points="271.5,237.2 282.6,237.9 276.7,246.6" fill="#231f20"/>
<text x="12.1" y="229.9" font-size="17" font-style="italic" fill="#231f20">M</text>
<text x="27.0" y="229.9" font-size="8" font-weight="normal" font-style="normal" fill="#231f20" letter-spacing="0" text-anchor="start" >A</text>
<text x="268.4" y="229.3" font-size="17" font-style="italic" fill="#231f20">M</text>
<text x="283.4" y="229.3" font-size="8" font-weight="normal" font-style="normal" fill="#231f20" letter-spacing="0" text-anchor="start" >B</text>
<text x="59.0" y="280.4" font-size="17" font-style="italic" fill="#231f20">R</text>
<text x="70.0" y="280.4" font-size="8" font-weight="normal" font-style="normal" fill="#231f20" letter-spacing="0" text-anchor="start" >A</text>
<text x="236.0" y="280.3" font-size="17" font-style="italic" fill="#231f20">R</text>
<text x="246.0" y="280.3" font-size="8" font-weight="normal" font-style="normal" fill="#231f20" letter-spacing="0" text-anchor="start" >B</text>
<text x="160.1" y="259.9" font-size="17.5" font-weight="normal" font-style="normal" fill="#231f20" letter-spacing="0" text-anchor="start" >O</text>
<text x="139.3" y="280.7" font-size="16.5" font-style="italic" fill="#231f20">F</text>
</svg>
</body></html>
